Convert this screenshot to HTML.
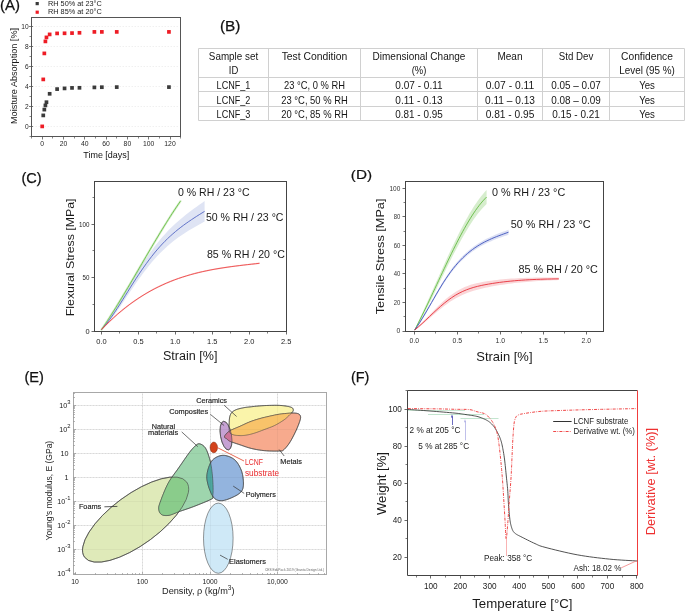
<!DOCTYPE html>
<html><head><meta charset="utf-8"><style>
html,body{margin:0;padding:0;background:#fff;width:685px;height:611px;overflow:hidden}
svg{display:block;font-family:"Liberation Sans", sans-serif;will-change:transform}
</style></head><body>
<svg width="685" height="611" viewBox="0 0 685 611">
<rect width="685" height="611" fill="#fff"/>
<line x1="32.50" y1="126.50" x2="179.50" y2="126.50" stroke="#ececec" stroke-width="0.8" stroke-dasharray="1.5,1.5"/>
<line x1="32.50" y1="106.50" x2="179.50" y2="106.50" stroke="#ececec" stroke-width="0.8" stroke-dasharray="1.5,1.5"/>
<line x1="32.50" y1="86.50" x2="179.50" y2="86.50" stroke="#ececec" stroke-width="0.8" stroke-dasharray="1.5,1.5"/>
<line x1="32.50" y1="66.50" x2="179.50" y2="66.50" stroke="#ececec" stroke-width="0.8" stroke-dasharray="1.5,1.5"/>
<line x1="32.50" y1="46.50" x2="179.50" y2="46.50" stroke="#ececec" stroke-width="0.8" stroke-dasharray="1.5,1.5"/>
<line x1="32.50" y1="26.50" x2="179.50" y2="26.50" stroke="#ececec" stroke-width="0.8" stroke-dasharray="1.5,1.5"/>
<rect x="31.5" y="17.5" width="149.0" height="119.0" fill="none" stroke="#555" stroke-width="1"/>
<line x1="29.00" y1="126.50" x2="33.00" y2="126.50" stroke="#555" stroke-width="0.8" />
<text x="28.70" y="128.70" font-size="6.6" fill="#262626" text-anchor="end" >0</text>
<line x1="29.00" y1="106.50" x2="33.00" y2="106.50" stroke="#555" stroke-width="0.8" />
<text x="28.70" y="108.70" font-size="6.6" fill="#262626" text-anchor="end" >2</text>
<line x1="29.00" y1="86.50" x2="33.00" y2="86.50" stroke="#555" stroke-width="0.8" />
<text x="28.70" y="88.70" font-size="6.6" fill="#262626" text-anchor="end" >4</text>
<line x1="29.00" y1="66.50" x2="33.00" y2="66.50" stroke="#555" stroke-width="0.8" />
<text x="28.70" y="68.70" font-size="6.6" fill="#262626" text-anchor="end" >6</text>
<line x1="29.00" y1="46.50" x2="33.00" y2="46.50" stroke="#555" stroke-width="0.8" />
<text x="28.70" y="48.70" font-size="6.6" fill="#262626" text-anchor="end" >8</text>
<line x1="29.00" y1="26.50" x2="33.00" y2="26.50" stroke="#555" stroke-width="0.8" />
<text x="28.70" y="28.70" font-size="6.6" fill="#262626" text-anchor="end" >10</text>
<line x1="29.50" y1="136.50" x2="31.50" y2="136.50" stroke="#555" stroke-width="0.7" />
<line x1="29.50" y1="116.50" x2="31.50" y2="116.50" stroke="#555" stroke-width="0.7" />
<line x1="29.50" y1="96.50" x2="31.50" y2="96.50" stroke="#555" stroke-width="0.7" />
<line x1="29.50" y1="76.50" x2="31.50" y2="76.50" stroke="#555" stroke-width="0.7" />
<line x1="29.50" y1="56.50" x2="31.50" y2="56.50" stroke="#555" stroke-width="0.7" />
<line x1="29.50" y1="36.50" x2="31.50" y2="36.50" stroke="#555" stroke-width="0.7" />
<line x1="42.50" y1="136.50" x2="42.50" y2="139.50" stroke="#555" stroke-width="0.8" />
<text x="42.20" y="145.70" font-size="6.8" fill="#262626" text-anchor="middle" >0</text>
<line x1="63.50" y1="136.50" x2="63.50" y2="139.50" stroke="#555" stroke-width="0.8" />
<text x="63.50" y="145.70" font-size="6.8" fill="#262626" text-anchor="middle" >20</text>
<line x1="84.50" y1="136.50" x2="84.50" y2="139.50" stroke="#555" stroke-width="0.8" />
<text x="84.80" y="145.70" font-size="6.8" fill="#262626" text-anchor="middle" >40</text>
<line x1="106.50" y1="136.50" x2="106.50" y2="139.50" stroke="#555" stroke-width="0.8" />
<text x="106.10" y="145.70" font-size="6.8" fill="#262626" text-anchor="middle" >60</text>
<line x1="127.50" y1="136.50" x2="127.50" y2="139.50" stroke="#555" stroke-width="0.8" />
<text x="127.40" y="145.70" font-size="6.8" fill="#262626" text-anchor="middle" >80</text>
<line x1="148.50" y1="136.50" x2="148.50" y2="139.50" stroke="#555" stroke-width="0.8" />
<text x="148.70" y="145.70" font-size="6.8" fill="#262626" text-anchor="middle" >100</text>
<line x1="170.50" y1="136.50" x2="170.50" y2="139.50" stroke="#555" stroke-width="0.8" />
<text x="170.00" y="145.70" font-size="6.8" fill="#262626" text-anchor="middle" >120</text>
<line x1="31.50" y1="136.50" x2="31.50" y2="138.50" stroke="#555" stroke-width="0.7" />
<line x1="52.50" y1="136.50" x2="52.50" y2="138.50" stroke="#555" stroke-width="0.7" />
<line x1="74.50" y1="136.50" x2="74.50" y2="138.50" stroke="#555" stroke-width="0.7" />
<line x1="95.50" y1="136.50" x2="95.50" y2="138.50" stroke="#555" stroke-width="0.7" />
<line x1="116.50" y1="136.50" x2="116.50" y2="138.50" stroke="#555" stroke-width="0.7" />
<line x1="138.50" y1="136.50" x2="138.50" y2="138.50" stroke="#555" stroke-width="0.7" />
<line x1="159.50" y1="136.50" x2="159.50" y2="138.50" stroke="#555" stroke-width="0.7" />
<line x1="180.50" y1="136.50" x2="180.50" y2="138.50" stroke="#555" stroke-width="0.7" />
<rect x="41.41" y="113.55" width="3.7" height="3.7" fill="#3b3b3b"/>
<rect x="42.48" y="107.75" width="3.7" height="3.7" fill="#3b3b3b"/>
<rect x="43.55" y="103.55" width="3.7" height="3.7" fill="#3b3b3b"/>
<rect x="44.61" y="100.35" width="3.7" height="3.7" fill="#3b3b3b"/>
<rect x="47.80" y="91.95" width="3.7" height="3.7" fill="#3b3b3b"/>
<rect x="55.26" y="87.25" width="3.7" height="3.7" fill="#3b3b3b"/>
<rect x="62.71" y="86.55" width="3.7" height="3.7" fill="#3b3b3b"/>
<rect x="70.17" y="86.05" width="3.7" height="3.7" fill="#3b3b3b"/>
<rect x="77.62" y="85.95" width="3.7" height="3.7" fill="#3b3b3b"/>
<rect x="92.53" y="85.55" width="3.7" height="3.7" fill="#3b3b3b"/>
<rect x="99.99" y="85.35" width="3.7" height="3.7" fill="#3b3b3b"/>
<rect x="114.90" y="85.25" width="3.7" height="3.7" fill="#3b3b3b"/>
<rect x="167.09" y="85.25" width="3.7" height="3.7" fill="#3b3b3b"/>
<rect x="40.35" y="124.55" width="3.7" height="3.7" fill="#ee1c25"/>
<rect x="41.41" y="77.55" width="3.7" height="3.7" fill="#ee1c25"/>
<rect x="42.48" y="51.55" width="3.7" height="3.7" fill="#ee1c25"/>
<rect x="43.55" y="39.55" width="3.7" height="3.7" fill="#ee1c25"/>
<rect x="44.61" y="35.55" width="3.7" height="3.7" fill="#ee1c25"/>
<rect x="47.80" y="32.55" width="3.7" height="3.7" fill="#ee1c25"/>
<rect x="55.26" y="31.55" width="3.7" height="3.7" fill="#ee1c25"/>
<rect x="62.71" y="31.45" width="3.7" height="3.7" fill="#ee1c25"/>
<rect x="70.17" y="31.25" width="3.7" height="3.7" fill="#ee1c25"/>
<rect x="77.62" y="30.95" width="3.7" height="3.7" fill="#ee1c25"/>
<rect x="92.53" y="30.05" width="3.7" height="3.7" fill="#ee1c25"/>
<rect x="99.99" y="30.05" width="3.7" height="3.7" fill="#ee1c25"/>
<rect x="114.90" y="30.05" width="3.7" height="3.7" fill="#ee1c25"/>
<rect x="167.09" y="30.05" width="3.7" height="3.7" fill="#ee1c25"/>
<rect x="35.6" y="2.0" width="3.2" height="3.2" fill="#3b3b3b"/>
<rect x="35.6" y="10.6" width="3.2" height="3.2" fill="#ee1c25"/>
<text x="48.00" y="5.80" font-size="7.0" fill="#222" text-anchor="start" textLength="53.8" lengthAdjust="spacingAndGlyphs" >RH 50% at 23°C</text>
<text x="48.00" y="14.40" font-size="7.0" fill="#222" text-anchor="start" textLength="53.8" lengthAdjust="spacingAndGlyphs" >RH 85% at 20°C</text>
<text x="0.00" y="10.00" font-size="14.2" fill="#111" text-anchor="start" textLength="20" lengthAdjust="spacingAndGlyphs" stroke="#111" stroke-width="0.25">(A)</text>
<text x="0.00" y="0.00" font-size="8.6" fill="#1a1a1a" text-anchor="middle" textLength="96" lengthAdjust="spacingAndGlyphs" transform="translate(17.4,76.0) rotate(-90)">Moisture Absorption [%]</text>
<text x="106.30" y="158.40" font-size="9.8" fill="#111" text-anchor="middle" textLength="46" lengthAdjust="spacingAndGlyphs" >Time [days]</text>
<line x1="198.50" y1="48.50" x2="198.50" y2="120.50" stroke="#d0d0d0" stroke-width="1" />
<line x1="268.50" y1="48.50" x2="268.50" y2="120.50" stroke="#d0d0d0" stroke-width="1" />
<line x1="360.50" y1="48.50" x2="360.50" y2="120.50" stroke="#d0d0d0" stroke-width="1" />
<line x1="477.50" y1="48.50" x2="477.50" y2="120.50" stroke="#d0d0d0" stroke-width="1" />
<line x1="542.50" y1="48.50" x2="542.50" y2="120.50" stroke="#d0d0d0" stroke-width="1" />
<line x1="609.50" y1="48.50" x2="609.50" y2="120.50" stroke="#d0d0d0" stroke-width="1" />
<line x1="684.50" y1="48.50" x2="684.50" y2="120.50" stroke="#d0d0d0" stroke-width="1" />
<line x1="198.50" y1="48.50" x2="684.50" y2="48.50" stroke="#d0d0d0" stroke-width="1" />
<line x1="198.50" y1="77.50" x2="684.50" y2="77.50" stroke="#d0d0d0" stroke-width="1" />
<line x1="198.50" y1="91.50" x2="684.50" y2="91.50" stroke="#d0d0d0" stroke-width="1" />
<line x1="198.50" y1="106.50" x2="684.50" y2="106.50" stroke="#d0d0d0" stroke-width="1" />
<line x1="198.50" y1="120.50" x2="684.50" y2="120.50" stroke="#d0d0d0" stroke-width="1" />
<text x="233.50" y="60.40" font-size="10.4" fill="#161616" text-anchor="middle" textLength="49.3" lengthAdjust="spacingAndGlyphs" >Sample set</text>
<text x="233.50" y="73.70" font-size="10.4" fill="#161616" text-anchor="middle" textLength="9.5" lengthAdjust="spacingAndGlyphs" >ID</text>
<text x="314.50" y="60.40" font-size="10.4" fill="#161616" text-anchor="middle" textLength="65.7" lengthAdjust="spacingAndGlyphs" >Test Condition</text>
<text x="419.00" y="60.40" font-size="10.4" fill="#161616" text-anchor="middle" textLength="92.8" lengthAdjust="spacingAndGlyphs" >Dimensional Change</text>
<text x="419.00" y="73.70" font-size="10.4" fill="#161616" text-anchor="middle" textLength="14.6" lengthAdjust="spacingAndGlyphs" >(%)</text>
<text x="510.00" y="60.40" font-size="10.4" fill="#161616" text-anchor="middle" textLength="25.1" lengthAdjust="spacingAndGlyphs" >Mean</text>
<text x="576.00" y="60.40" font-size="10.4" fill="#161616" text-anchor="middle" textLength="34.5" lengthAdjust="spacingAndGlyphs" >Std Dev</text>
<text x="647.00" y="60.40" font-size="10.4" fill="#161616" text-anchor="middle" textLength="51.8" lengthAdjust="spacingAndGlyphs" >Confidence</text>
<text x="647.00" y="73.70" font-size="10.4" fill="#161616" text-anchor="middle" textLength="55.5" lengthAdjust="spacingAndGlyphs" >Level (95 %)</text>
<text x="233.50" y="89.00" font-size="10.4" fill="#161616" text-anchor="middle" textLength="33.8" lengthAdjust="spacingAndGlyphs" >LCNF_1</text>
<text x="314.50" y="89.00" font-size="10.4" fill="#161616" text-anchor="middle" textLength="60.9" lengthAdjust="spacingAndGlyphs" >23 °C, 0 % RH</text>
<text x="419.00" y="89.00" font-size="10.4" fill="#161616" text-anchor="middle" textLength="47.3" lengthAdjust="spacingAndGlyphs" >0.07 - 0.11</text>
<text x="510.00" y="89.00" font-size="10.4" fill="#161616" text-anchor="middle" textLength="48.6" lengthAdjust="spacingAndGlyphs" >0.07 - 0.11</text>
<text x="576.00" y="89.00" font-size="10.4" fill="#161616" text-anchor="middle" textLength="49.6" lengthAdjust="spacingAndGlyphs" >0.05 – 0.07</text>
<text x="647.00" y="89.00" font-size="10.4" fill="#161616" text-anchor="middle" textLength="15.7" lengthAdjust="spacingAndGlyphs" >Yes</text>
<text x="233.50" y="103.50" font-size="10.4" fill="#161616" text-anchor="middle" textLength="33.8" lengthAdjust="spacingAndGlyphs" >LCNF_2</text>
<text x="314.50" y="103.50" font-size="10.4" fill="#161616" text-anchor="middle" textLength="66.5" lengthAdjust="spacingAndGlyphs" >23 °C, 50 % RH</text>
<text x="419.00" y="103.50" font-size="10.4" fill="#161616" text-anchor="middle" textLength="47.3" lengthAdjust="spacingAndGlyphs" >0.11 - 0.13</text>
<text x="510.00" y="103.50" font-size="10.4" fill="#161616" text-anchor="middle" textLength="50" lengthAdjust="spacingAndGlyphs" >0.11 – 0.13</text>
<text x="576.00" y="103.50" font-size="10.4" fill="#161616" text-anchor="middle" textLength="49.6" lengthAdjust="spacingAndGlyphs" >0.08 – 0.09</text>
<text x="647.00" y="103.50" font-size="10.4" fill="#161616" text-anchor="middle" textLength="15.7" lengthAdjust="spacingAndGlyphs" >Yes</text>
<text x="233.50" y="118.00" font-size="10.4" fill="#161616" text-anchor="middle" textLength="33.8" lengthAdjust="spacingAndGlyphs" >LCNF_3</text>
<text x="314.50" y="118.00" font-size="10.4" fill="#161616" text-anchor="middle" textLength="66.5" lengthAdjust="spacingAndGlyphs" >20 °C, 85 % RH</text>
<text x="419.00" y="118.00" font-size="10.4" fill="#161616" text-anchor="middle" textLength="47.3" lengthAdjust="spacingAndGlyphs" >0.81 - 0.95</text>
<text x="510.00" y="118.00" font-size="10.4" fill="#161616" text-anchor="middle" textLength="48.6" lengthAdjust="spacingAndGlyphs" >0.81 - 0.95</text>
<text x="576.00" y="118.00" font-size="10.4" fill="#161616" text-anchor="middle" textLength="47.7" lengthAdjust="spacingAndGlyphs" >0.15 - 0.21</text>
<text x="647.00" y="118.00" font-size="10.4" fill="#161616" text-anchor="middle" textLength="15.7" lengthAdjust="spacingAndGlyphs" >Yes</text>
<text x="220.00" y="30.80" font-size="14" fill="#111" text-anchor="start" textLength="20.5" lengthAdjust="spacingAndGlyphs" stroke="#111" stroke-width="0.25">(B)</text>
<rect x="94.5" y="181.5" width="192.0" height="150.0" fill="none" stroke="#444" stroke-width="1"/>
<line x1="101.50" y1="331.50" x2="101.50" y2="334.50" stroke="#444" stroke-width="0.8" />
<text x="101.50" y="343.90" font-size="7.4" fill="#222" text-anchor="middle" textLength="10.4" lengthAdjust="spacingAndGlyphs" >0.0</text>
<line x1="138.50" y1="331.50" x2="138.50" y2="334.50" stroke="#444" stroke-width="0.8" />
<text x="138.42" y="343.90" font-size="7.4" fill="#222" text-anchor="middle" textLength="10.4" lengthAdjust="spacingAndGlyphs" >0.5</text>
<line x1="175.50" y1="331.50" x2="175.50" y2="334.50" stroke="#444" stroke-width="0.8" />
<text x="175.34" y="343.90" font-size="7.4" fill="#222" text-anchor="middle" textLength="10.4" lengthAdjust="spacingAndGlyphs" >1.0</text>
<line x1="212.50" y1="331.50" x2="212.50" y2="334.50" stroke="#444" stroke-width="0.8" />
<text x="212.26" y="343.90" font-size="7.4" fill="#222" text-anchor="middle" textLength="10.4" lengthAdjust="spacingAndGlyphs" >1.5</text>
<line x1="249.50" y1="331.50" x2="249.50" y2="334.50" stroke="#444" stroke-width="0.8" />
<text x="249.18" y="343.90" font-size="7.4" fill="#222" text-anchor="middle" textLength="10.4" lengthAdjust="spacingAndGlyphs" >2.0</text>
<line x1="286.50" y1="331.50" x2="286.50" y2="334.50" stroke="#444" stroke-width="0.8" />
<text x="286.10" y="343.90" font-size="7.4" fill="#222" text-anchor="middle" textLength="10.4" lengthAdjust="spacingAndGlyphs" >2.5</text>
<line x1="119.50" y1="331.50" x2="119.50" y2="333.50" stroke="#444" stroke-width="0.7" />
<line x1="156.50" y1="331.50" x2="156.50" y2="333.50" stroke="#444" stroke-width="0.7" />
<line x1="193.50" y1="331.50" x2="193.50" y2="333.50" stroke="#444" stroke-width="0.7" />
<line x1="230.50" y1="331.50" x2="230.50" y2="333.50" stroke="#444" stroke-width="0.7" />
<line x1="267.50" y1="331.50" x2="267.50" y2="333.50" stroke="#444" stroke-width="0.7" />
<line x1="91.50" y1="331.50" x2="94.50" y2="331.50" stroke="#444" stroke-width="0.8" />
<text x="89.50" y="334.10" font-size="7.4" fill="#222" text-anchor="end" >0</text>
<line x1="91.50" y1="277.50" x2="94.50" y2="277.50" stroke="#444" stroke-width="0.8" />
<text x="89.50" y="280.40" font-size="7.4" fill="#222" text-anchor="end" textLength="6.9" lengthAdjust="spacingAndGlyphs" >50</text>
<line x1="91.50" y1="224.50" x2="94.50" y2="224.50" stroke="#444" stroke-width="0.8" />
<text x="89.50" y="226.70" font-size="7.4" fill="#222" text-anchor="end" textLength="10.4" lengthAdjust="spacingAndGlyphs" >100</text>
<line x1="92.50" y1="304.50" x2="94.50" y2="304.50" stroke="#444" stroke-width="0.7" />
<line x1="92.50" y1="250.50" x2="94.50" y2="250.50" stroke="#444" stroke-width="0.7" />
<line x1="92.50" y1="197.50" x2="94.50" y2="197.50" stroke="#444" stroke-width="0.7" />
<path d="M101.50,329.60 L104.14,325.94 L106.79,322.22 L109.43,318.32 L112.07,314.24 L114.72,310.02 L117.36,305.68 L120.01,301.25 L122.65,296.75 L125.29,292.21 L127.94,287.68 L130.58,283.17 L133.22,278.72 L135.87,274.35 L138.51,270.08 L141.15,265.91 L143.80,261.85 L146.44,257.91 L149.08,254.08 L151.73,250.39 L154.37,246.84 L157.02,243.44 L159.66,240.19 L162.30,237.09 L164.95,234.13 L167.59,231.30 L170.23,228.60 L172.88,226.02 L175.52,223.55 L178.16,221.17 L180.81,218.89 L183.45,216.69 L186.09,214.56 L188.74,212.50 L191.38,210.51 L194.03,208.56 L196.67,206.65 L199.31,204.77 L201.96,202.92 L204.60,201.09 L204.60,221.61 L201.96,223.04 L199.31,224.49 L196.67,225.97 L194.03,227.47 L191.38,229.01 L188.74,230.60 L186.09,232.25 L183.45,233.96 L180.81,235.74 L178.16,237.60 L175.52,239.55 L172.88,241.59 L170.23,243.74 L167.59,246.00 L164.95,248.38 L162.30,250.89 L159.66,253.54 L157.02,256.33 L154.37,259.28 L151.73,262.36 L149.08,265.57 L146.44,268.91 L143.80,272.37 L141.15,275.93 L138.51,279.60 L135.87,283.35 L133.22,287.19 L130.58,291.11 L127.94,295.07 L125.29,299.04 L122.65,303.00 L120.01,306.90 L117.36,310.72 L114.72,314.42 L112.07,317.96 L109.43,321.31 L106.79,324.43 L104.14,327.25 L101.50,329.60 Z" fill="#dfe4f4" stroke="none"/>
<path d="M101.50,329.60 L103.53,326.61 L105.55,323.57 L107.58,320.48 L109.60,317.35 L111.63,314.18 L113.65,310.97 L115.68,307.72 L117.71,304.44 L119.73,301.12 L121.76,297.78 L123.78,294.41 L125.81,291.02 L127.83,287.62 L129.86,284.19 L131.88,280.75 L133.91,277.30 L135.94,273.84 L137.96,270.37 L139.99,266.90 L142.01,263.43 L144.04,259.96 L146.06,256.50 L148.09,253.04 L150.12,249.60 L152.14,246.17 L154.17,242.75 L156.19,239.36 L158.22,235.98 L160.24,232.63 L162.27,229.31 L164.29,226.02 L166.32,222.76 L168.35,219.53 L170.37,216.34 L172.40,213.20 L174.42,210.10 L176.45,207.04 L178.47,204.03 L180.50,201.08" stroke="#6cc04a" stroke-width="2.2" fill="none" stroke-linecap="round" stroke-opacity="0.3"/>
<path d="M101.50,329.60 L103.53,326.61 L105.55,323.57 L107.58,320.48 L109.60,317.35 L111.63,314.18 L113.65,310.97 L115.68,307.72 L117.71,304.44 L119.73,301.12 L121.76,297.78 L123.78,294.41 L125.81,291.02 L127.83,287.62 L129.86,284.19 L131.88,280.75 L133.91,277.30 L135.94,273.84 L137.96,270.37 L139.99,266.90 L142.01,263.43 L144.04,259.96 L146.06,256.50 L148.09,253.04 L150.12,249.60 L152.14,246.17 L154.17,242.75 L156.19,239.36 L158.22,235.98 L160.24,232.63 L162.27,229.31 L164.29,226.02 L166.32,222.76 L168.35,219.53 L170.37,216.34 L172.40,213.20 L174.42,210.10 L176.45,207.04 L178.47,204.03 L180.50,201.08" stroke="#6cc04a" stroke-width="0.9" fill="none" />
<path d="M101.50,329.60 L104.14,326.59 L106.79,323.32 L109.43,319.81 L112.07,316.10 L114.72,312.22 L117.36,308.20 L120.01,304.07 L122.65,299.87 L125.29,295.63 L127.94,291.37 L130.58,287.14 L133.22,282.96 L135.87,278.85 L138.51,274.84 L141.15,270.92 L143.80,267.11 L146.44,263.41 L149.08,259.83 L151.73,256.38 L154.37,253.06 L157.02,249.89 L159.66,246.86 L162.30,243.99 L164.95,241.26 L167.59,238.65 L170.23,236.17 L172.88,233.81 L175.52,231.55 L178.16,229.38 L180.81,227.31 L183.45,225.32 L186.09,223.41 L188.74,221.55 L191.38,219.76 L194.03,218.01 L196.67,216.31 L199.31,214.63 L201.96,212.98 L204.60,211.35" stroke="#4a5fc1" stroke-width="0.85" fill="none" />
<path d="M101.50,329.60 L105.55,325.43 L109.60,321.45 L113.65,317.66 L117.71,314.05 L121.76,310.63 L125.81,307.37 L129.86,304.28 L133.91,301.35 L137.96,298.59 L142.01,295.97 L146.06,293.50 L150.12,291.18 L154.17,288.99 L158.22,286.93 L162.27,285.00 L166.32,283.20 L170.37,281.51 L174.42,279.93 L178.47,278.46 L182.53,277.10 L186.58,275.83 L190.63,274.64 L194.68,273.55 L198.73,272.53 L202.78,271.59 L206.83,270.72 L210.88,269.91 L214.94,269.17 L218.99,268.47 L223.04,267.82 L227.09,267.22 L231.14,266.65 L235.19,266.12 L239.24,265.61 L243.29,265.12 L247.35,264.65 L251.40,264.19 L255.45,263.74 L259.50,263.28" stroke="#ec4a4a" stroke-width="1.4" fill="none" stroke-opacity="0.25"/>
<path d="M101.50,329.60 L105.55,325.43 L109.60,321.45 L113.65,317.66 L117.71,314.05 L121.76,310.63 L125.81,307.37 L129.86,304.28 L133.91,301.35 L137.96,298.59 L142.01,295.97 L146.06,293.50 L150.12,291.18 L154.17,288.99 L158.22,286.93 L162.27,285.00 L166.32,283.20 L170.37,281.51 L174.42,279.93 L178.47,278.46 L182.53,277.10 L186.58,275.83 L190.63,274.64 L194.68,273.55 L198.73,272.53 L202.78,271.59 L206.83,270.72 L210.88,269.91 L214.94,269.17 L218.99,268.47 L223.04,267.82 L227.09,267.22 L231.14,266.65 L235.19,266.12 L239.24,265.61 L243.29,265.12 L247.35,264.65 L251.40,264.19 L255.45,263.74 L259.50,263.28" stroke="#ec4040" stroke-width="0.85" fill="none" />
<text x="177.90" y="195.70" font-size="10.7" fill="#1a1a1a" text-anchor="start" textLength="71.7" lengthAdjust="spacingAndGlyphs" >0 % RH / 23 °C</text>
<text x="205.90" y="221.40" font-size="10.7" fill="#1a1a1a" text-anchor="start" textLength="77.6" lengthAdjust="spacingAndGlyphs" >50 % RH / 23 °C</text>
<text x="206.90" y="258.40" font-size="10.7" fill="#1a1a1a" text-anchor="start" textLength="78" lengthAdjust="spacingAndGlyphs" >85 % RH / 20 °C</text>
<text x="21.40" y="183.00" font-size="14" fill="#111" text-anchor="start" textLength="20.2" lengthAdjust="spacingAndGlyphs" stroke="#111" stroke-width="0.25">(C)</text>
<text x="0.00" y="0.00" font-size="11.8" fill="#1a1a1a" text-anchor="middle" textLength="117.6" lengthAdjust="spacingAndGlyphs" transform="translate(73.5,257.4) rotate(-90)">Flexural Stress [MPa]</text>
<text x="190.20" y="360.40" font-size="12.3" fill="#1a1a1a" text-anchor="middle" textLength="54.4" lengthAdjust="spacingAndGlyphs" >Strain [%]</text>
<rect x="405.5" y="181.5" width="198.0" height="150.0" fill="none" stroke="#444" stroke-width="1"/>
<line x1="414.50" y1="331.50" x2="414.50" y2="334.50" stroke="#444" stroke-width="0.8" />
<text x="414.40" y="342.70" font-size="6.9" fill="#333" text-anchor="middle" textLength="9.6" lengthAdjust="spacingAndGlyphs" >0.0</text>
<line x1="457.50" y1="331.50" x2="457.50" y2="334.50" stroke="#444" stroke-width="0.8" />
<text x="457.35" y="342.70" font-size="6.9" fill="#333" text-anchor="middle" textLength="9.6" lengthAdjust="spacingAndGlyphs" >0.5</text>
<line x1="500.50" y1="331.50" x2="500.50" y2="334.50" stroke="#444" stroke-width="0.8" />
<text x="500.30" y="342.70" font-size="6.9" fill="#333" text-anchor="middle" textLength="9.6" lengthAdjust="spacingAndGlyphs" >1.0</text>
<line x1="543.50" y1="331.50" x2="543.50" y2="334.50" stroke="#444" stroke-width="0.8" />
<text x="543.25" y="342.70" font-size="6.9" fill="#333" text-anchor="middle" textLength="9.6" lengthAdjust="spacingAndGlyphs" >1.5</text>
<line x1="586.50" y1="331.50" x2="586.50" y2="334.50" stroke="#444" stroke-width="0.8" />
<text x="586.20" y="342.70" font-size="6.9" fill="#333" text-anchor="middle" textLength="9.6" lengthAdjust="spacingAndGlyphs" >2.0</text>
<line x1="435.50" y1="331.50" x2="435.50" y2="333.50" stroke="#444" stroke-width="0.7" />
<line x1="478.50" y1="331.50" x2="478.50" y2="333.50" stroke="#444" stroke-width="0.7" />
<line x1="521.50" y1="331.50" x2="521.50" y2="333.50" stroke="#444" stroke-width="0.7" />
<line x1="564.50" y1="331.50" x2="564.50" y2="333.50" stroke="#444" stroke-width="0.7" />
<line x1="402.50" y1="331.50" x2="405.50" y2="331.50" stroke="#444" stroke-width="0.8" />
<text x="400.30" y="333.40" font-size="6.8" fill="#333" text-anchor="end" >0</text>
<line x1="402.50" y1="302.50" x2="405.50" y2="302.50" stroke="#444" stroke-width="0.8" />
<text x="400.30" y="304.84" font-size="6.8" fill="#333" text-anchor="end" textLength="6.6" lengthAdjust="spacingAndGlyphs" >20</text>
<line x1="402.50" y1="273.50" x2="405.50" y2="273.50" stroke="#444" stroke-width="0.8" />
<text x="400.30" y="276.28" font-size="6.8" fill="#333" text-anchor="end" textLength="6.6" lengthAdjust="spacingAndGlyphs" >40</text>
<line x1="402.50" y1="245.50" x2="405.50" y2="245.50" stroke="#444" stroke-width="0.8" />
<text x="400.30" y="247.72" font-size="6.8" fill="#333" text-anchor="end" textLength="6.6" lengthAdjust="spacingAndGlyphs" >60</text>
<line x1="402.50" y1="216.50" x2="405.50" y2="216.50" stroke="#444" stroke-width="0.8" />
<text x="400.30" y="219.16" font-size="6.8" fill="#333" text-anchor="end" textLength="6.6" lengthAdjust="spacingAndGlyphs" >80</text>
<line x1="402.50" y1="188.50" x2="405.50" y2="188.50" stroke="#444" stroke-width="0.8" />
<text x="400.30" y="190.60" font-size="6.8" fill="#333" text-anchor="end" textLength="10.8" lengthAdjust="spacingAndGlyphs" >100</text>
<line x1="403.50" y1="316.50" x2="405.50" y2="316.50" stroke="#444" stroke-width="0.7" />
<line x1="403.50" y1="288.50" x2="405.50" y2="288.50" stroke="#444" stroke-width="0.7" />
<line x1="403.50" y1="259.50" x2="405.50" y2="259.50" stroke="#444" stroke-width="0.7" />
<line x1="403.50" y1="231.50" x2="405.50" y2="231.50" stroke="#444" stroke-width="0.7" />
<line x1="403.50" y1="202.50" x2="405.50" y2="202.50" stroke="#444" stroke-width="0.7" />
<path d="M414.70,329.50 L416.17,326.07 L417.63,322.90 L419.10,319.75 L420.57,316.59 L422.04,313.42 L423.50,310.24 L424.97,307.04 L426.44,303.82 L427.91,300.59 L429.37,297.34 L430.84,294.08 L432.31,290.82 L433.78,287.55 L435.24,284.27 L436.71,281.00 L438.18,277.73 L439.64,274.46 L441.11,271.20 L442.58,267.95 L444.05,264.71 L445.51,261.49 L446.98,258.29 L448.45,255.11 L449.92,251.95 L451.38,248.82 L452.85,245.73 L454.32,242.67 L455.79,239.64 L457.25,236.66 L458.72,233.72 L460.19,230.82 L461.66,227.98 L463.12,225.18 L464.59,222.44 L466.06,219.76 L467.52,217.14 L468.99,214.59 L470.46,212.10 L471.93,209.68 L473.39,207.33 L474.86,205.07 L476.33,202.88 L477.80,200.77 L479.26,198.75 L480.73,196.82 L482.20,194.98 L483.67,193.23 L485.13,191.59 L486.60,190.04 L486.60,204.04 L485.13,205.43 L483.67,206.91 L482.20,208.50 L480.73,210.17 L479.26,211.94 L477.80,213.79 L476.33,215.73 L474.86,217.75 L473.39,219.84 L471.93,222.02 L470.46,224.26 L468.99,226.57 L467.52,228.95 L466.06,231.38 L464.59,233.88 L463.12,236.44 L461.66,239.04 L460.19,241.70 L458.72,244.40 L457.25,247.15 L455.79,249.94 L454.32,252.76 L452.85,255.62 L451.38,258.51 L449.92,261.42 L448.45,264.36 L446.98,267.33 L445.51,270.31 L444.05,273.30 L442.58,276.31 L441.11,279.32 L439.64,282.35 L438.18,285.37 L436.71,288.39 L435.24,291.41 L433.78,294.41 L432.31,297.41 L430.84,300.39 L429.37,303.35 L427.91,306.29 L426.44,309.20 L424.97,312.08 L423.50,314.93 L422.04,317.73 L420.57,320.48 L419.10,323.18 L417.63,325.81 L416.17,328.33 L414.70,330.50 Z" fill="#6cc04a" fill-opacity="0.28" stroke="none"/>
<path d="M414.70,329.50 L416.61,326.47 L418.53,323.48 L420.44,320.39 L422.36,317.21 L424.27,313.96 L426.19,310.65 L428.10,307.30 L430.01,303.91 L431.93,300.52 L433.84,297.14 L435.76,293.77 L437.67,290.45 L439.59,287.19 L441.50,284.00 L443.41,280.90 L445.33,277.90 L447.24,275.01 L449.16,272.23 L451.07,269.56 L452.99,267.02 L454.90,264.61 L456.81,262.31 L458.73,260.13 L460.64,258.06 L462.56,256.10 L464.47,254.24 L466.39,252.48 L468.30,250.81 L470.21,249.23 L472.13,247.74 L474.04,246.33 L475.96,244.99 L477.87,243.73 L479.79,242.53 L481.70,241.40 L483.61,240.32 L485.53,239.30 L487.44,238.33 L489.36,237.41 L491.27,236.52 L493.19,235.68 L495.10,234.86 L497.01,234.08 L498.93,233.31 L500.84,232.57 L502.76,231.85 L504.67,231.13 L506.59,230.42 L508.50,229.71 L508.50,234.71 L506.59,235.38 L504.67,236.05 L502.76,236.72 L500.84,237.41 L498.93,238.11 L497.01,238.82 L495.10,239.57 L493.19,240.33 L491.27,241.14 L489.36,241.97 L487.44,242.85 L485.53,243.78 L483.61,244.75 L481.70,245.78 L479.79,246.86 L477.87,248.01 L475.96,249.22 L474.04,250.51 L472.13,251.87 L470.21,253.31 L468.30,254.83 L466.39,256.45 L464.47,258.15 L462.56,259.96 L460.64,261.86 L458.73,263.87 L456.81,265.99 L454.90,268.23 L452.99,270.58 L451.07,273.06 L449.16,275.65 L447.24,278.37 L445.33,281.19 L443.41,284.11 L441.50,287.14 L439.59,290.25 L437.67,293.43 L435.76,296.67 L433.84,299.94 L431.93,303.24 L430.01,306.53 L428.10,309.81 L426.19,313.05 L424.27,316.24 L422.36,319.35 L420.44,322.38 L418.53,325.28 L416.61,328.04 L414.70,330.50 Z" fill="#4a5fc1" fill-opacity="0.2" stroke="none"/>
<path d="M414.70,329.50 L417.64,326.77 L420.58,323.92 L423.52,320.97 L426.46,317.97 L429.40,314.94 L432.34,311.93 L435.29,308.95 L438.23,306.06 L441.17,303.28 L444.11,300.62 L447.05,298.12 L449.99,295.78 L452.93,293.64 L455.87,291.70 L458.81,289.97 L461.75,288.43 L464.69,287.08 L467.63,285.89 L470.58,284.87 L473.52,284.03 L476.46,283.29 L479.40,282.64 L482.34,282.07 L485.28,281.57 L488.22,281.11 L491.16,280.69 L494.10,280.30 L497.04,279.95 L499.98,279.62 L502.92,279.32 L505.87,279.05 L508.81,278.80 L511.75,278.59 L514.69,278.39 L517.63,278.22 L520.57,278.07 L523.51,277.94 L526.45,277.83 L529.39,277.74 L532.33,277.67 L535.27,277.61 L538.21,277.57 L541.16,277.54 L544.10,277.52 L547.04,277.52 L549.98,277.53 L552.92,277.55 L555.86,277.57 L558.80,277.60 L558.80,280.10 L555.86,280.21 L552.92,280.34 L549.98,280.47 L547.04,280.61 L544.10,280.76 L541.16,280.93 L538.21,281.10 L535.27,281.29 L532.33,281.50 L529.39,281.72 L526.45,281.96 L523.51,282.22 L520.57,282.50 L517.63,282.79 L514.69,283.12 L511.75,283.46 L508.81,283.83 L505.87,284.22 L502.92,284.64 L499.98,285.09 L497.04,285.56 L494.10,286.07 L491.16,286.61 L488.22,287.17 L485.28,287.78 L482.34,288.43 L479.40,289.15 L476.46,289.95 L473.52,290.83 L470.58,291.82 L467.63,292.87 L464.69,294.02 L461.75,295.28 L458.81,296.68 L455.87,298.24 L452.93,299.96 L449.99,301.86 L447.05,303.91 L444.11,306.09 L441.17,308.39 L438.23,310.80 L435.29,313.28 L432.34,315.82 L429.40,318.39 L426.46,320.95 L423.52,323.47 L420.58,325.92 L417.64,328.28 L414.70,330.50 Z" fill="#e8303a" fill-opacity="0.2" stroke="none"/>
<path d="M414.70,330.00 L416.54,326.47 L418.39,322.88 L420.23,319.22 L422.07,315.50 L423.92,311.73 L425.76,307.92 L427.61,304.07 L429.45,300.19 L431.29,296.28 L433.14,292.35 L434.98,288.40 L436.82,284.45 L438.67,280.50 L440.51,276.55 L442.35,272.61 L444.20,268.69 L446.04,264.79 L447.88,260.91 L449.73,257.08 L451.57,253.28 L453.42,249.53 L455.26,245.83 L457.10,242.20 L458.95,238.63 L460.79,235.13 L462.63,231.70 L464.48,228.36 L466.32,225.11 L468.16,221.96 L470.01,218.91 L471.85,215.96 L473.69,213.14 L475.54,210.43 L477.38,207.84 L479.23,205.39 L481.07,203.08 L482.91,200.91 L484.76,198.90 L486.60,197.04" stroke="#5cb83a" stroke-width="0.85" fill="none" />
<path d="M414.70,330.00 L417.11,326.53 L419.51,322.86 L421.92,319.01 L424.32,315.02 L426.73,310.92 L429.13,306.76 L431.54,302.57 L433.94,298.37 L436.35,294.21 L438.75,290.11 L441.16,286.13 L443.56,282.28 L445.97,278.58 L448.37,275.05 L450.78,271.71 L453.18,268.55 L455.59,265.59 L457.99,262.81 L460.40,260.22 L462.80,257.79 L465.21,255.52 L467.61,253.40 L470.02,251.42 L472.42,249.58 L474.83,247.87 L477.23,246.27 L479.64,244.78 L482.04,243.39 L484.45,242.09 L486.85,240.88 L489.26,239.74 L491.66,238.66 L494.07,237.64 L496.47,236.66 L498.88,235.73 L501.28,234.82 L503.69,233.94 L506.09,233.07 L508.50,232.21" stroke="#3f55bd" stroke-width="0.9" fill="none" />
<path d="M414.70,330.00 L418.39,326.87 L422.09,323.55 L425.78,320.10 L429.48,316.59 L433.17,313.09 L436.87,309.66 L440.56,306.36 L444.26,303.23 L447.95,300.32 L451.65,297.66 L455.34,295.29 L459.04,293.21 L462.73,291.40 L466.43,289.84 L470.12,288.50 L473.82,287.34 L477.51,286.35 L481.21,285.49 L484.90,284.75 L488.60,284.08 L492.29,283.47 L495.99,282.91 L499.68,282.39 L503.38,281.92 L507.07,281.50 L510.77,281.12 L514.46,280.77 L518.16,280.46 L521.85,280.19 L525.55,279.95 L529.24,279.74 L532.94,279.55 L536.63,279.39 L540.33,279.26 L544.02,279.14 L547.72,279.05 L551.41,278.97 L555.11,278.90 L558.80,278.85" stroke="#e8303a" stroke-width="0.9" fill="none" />
<text x="491.90" y="196.20" font-size="10.8" fill="#1a1a1a" text-anchor="start" textLength="73.3" lengthAdjust="spacingAndGlyphs" >0 % RH / 23 °C</text>
<text x="510.70" y="227.90" font-size="10.8" fill="#1a1a1a" text-anchor="start" textLength="79.9" lengthAdjust="spacingAndGlyphs" >50 % RH / 23 °C</text>
<text x="518.60" y="273.00" font-size="10.8" fill="#1a1a1a" text-anchor="start" textLength="79.3" lengthAdjust="spacingAndGlyphs" >85 % RH / 20 °C</text>
<text x="350.80" y="178.60" font-size="13.4" fill="#111" text-anchor="start" textLength="21.2" lengthAdjust="spacingAndGlyphs" stroke="#111" stroke-width="0.2">(D)</text>
<text x="0.00" y="0.00" font-size="11.6" fill="#1a1a1a" text-anchor="middle" textLength="115.7" lengthAdjust="spacingAndGlyphs" transform="translate(384.4,256.4) rotate(-90)">Tensile Stress [MPa]</text>
<text x="504.40" y="360.60" font-size="12.8" fill="#1a1a1a" text-anchor="middle" textLength="56.2" lengthAdjust="spacingAndGlyphs" >Strain [%]</text>
<rect x="73.5" y="392.5" width="253.0" height="182.0" fill="#fff" stroke="#a8a8a8" stroke-width="1"/>
<line x1="74.50" y1="549.50" x2="325.50" y2="549.50" stroke="#d4d4d4" stroke-width="0.7" stroke-dasharray="2,1"/>
<line x1="74.50" y1="525.50" x2="325.50" y2="525.50" stroke="#d4d4d4" stroke-width="0.7" stroke-dasharray="2,1"/>
<line x1="74.50" y1="501.50" x2="325.50" y2="501.50" stroke="#d4d4d4" stroke-width="0.7" stroke-dasharray="2,1"/>
<line x1="74.50" y1="477.50" x2="325.50" y2="477.50" stroke="#d4d4d4" stroke-width="0.7" stroke-dasharray="2,1"/>
<line x1="74.50" y1="453.50" x2="325.50" y2="453.50" stroke="#d4d4d4" stroke-width="0.7" stroke-dasharray="2,1"/>
<line x1="74.50" y1="429.50" x2="325.50" y2="429.50" stroke="#d4d4d4" stroke-width="0.7" stroke-dasharray="2,1"/>
<line x1="74.50" y1="405.50" x2="325.50" y2="405.50" stroke="#d4d4d4" stroke-width="0.7" stroke-dasharray="2,1"/>
<line x1="142.50" y1="393.50" x2="142.50" y2="573.50" stroke="#d4d4d4" stroke-width="0.7" stroke-dasharray="2,1"/>
<line x1="210.50" y1="393.50" x2="210.50" y2="573.50" stroke="#d4d4d4" stroke-width="0.7" stroke-dasharray="2,1"/>
<line x1="277.50" y1="393.50" x2="277.50" y2="573.50" stroke="#d4d4d4" stroke-width="0.7" stroke-dasharray="2,1"/>
<line x1="73.50" y1="573.50" x2="76.00" y2="573.50" stroke="#888" stroke-width="0.6" />
<line x1="73.50" y1="565.50" x2="75.00" y2="565.50" stroke="#888" stroke-width="0.6" />
<line x1="73.50" y1="561.50" x2="75.00" y2="561.50" stroke="#888" stroke-width="0.6" />
<line x1="73.50" y1="558.50" x2="75.00" y2="558.50" stroke="#888" stroke-width="0.6" />
<line x1="73.50" y1="556.50" x2="75.00" y2="556.50" stroke="#888" stroke-width="0.6" />
<line x1="73.50" y1="554.50" x2="75.00" y2="554.50" stroke="#888" stroke-width="0.6" />
<line x1="73.50" y1="552.50" x2="75.00" y2="552.50" stroke="#888" stroke-width="0.6" />
<line x1="73.50" y1="551.50" x2="75.00" y2="551.50" stroke="#888" stroke-width="0.6" />
<line x1="73.50" y1="550.50" x2="75.00" y2="550.50" stroke="#888" stroke-width="0.6" />
<line x1="73.50" y1="549.50" x2="76.00" y2="549.50" stroke="#888" stroke-width="0.6" />
<line x1="73.50" y1="541.50" x2="75.00" y2="541.50" stroke="#888" stroke-width="0.6" />
<line x1="73.50" y1="537.50" x2="75.00" y2="537.50" stroke="#888" stroke-width="0.6" />
<line x1="73.50" y1="534.50" x2="75.00" y2="534.50" stroke="#888" stroke-width="0.6" />
<line x1="73.50" y1="532.50" x2="75.00" y2="532.50" stroke="#888" stroke-width="0.6" />
<line x1="73.50" y1="530.50" x2="75.00" y2="530.50" stroke="#888" stroke-width="0.6" />
<line x1="73.50" y1="528.50" x2="75.00" y2="528.50" stroke="#888" stroke-width="0.6" />
<line x1="73.50" y1="527.50" x2="75.00" y2="527.50" stroke="#888" stroke-width="0.6" />
<line x1="73.50" y1="526.50" x2="75.00" y2="526.50" stroke="#888" stroke-width="0.6" />
<line x1="73.50" y1="525.50" x2="76.00" y2="525.50" stroke="#888" stroke-width="0.6" />
<line x1="73.50" y1="517.50" x2="75.00" y2="517.50" stroke="#888" stroke-width="0.6" />
<line x1="73.50" y1="513.50" x2="75.00" y2="513.50" stroke="#888" stroke-width="0.6" />
<line x1="73.50" y1="510.50" x2="75.00" y2="510.50" stroke="#888" stroke-width="0.6" />
<line x1="73.50" y1="508.50" x2="75.00" y2="508.50" stroke="#888" stroke-width="0.6" />
<line x1="73.50" y1="506.50" x2="75.00" y2="506.50" stroke="#888" stroke-width="0.6" />
<line x1="73.50" y1="504.50" x2="75.00" y2="504.50" stroke="#888" stroke-width="0.6" />
<line x1="73.50" y1="503.50" x2="75.00" y2="503.50" stroke="#888" stroke-width="0.6" />
<line x1="73.50" y1="502.50" x2="75.00" y2="502.50" stroke="#888" stroke-width="0.6" />
<line x1="73.50" y1="501.50" x2="76.00" y2="501.50" stroke="#888" stroke-width="0.6" />
<line x1="73.50" y1="493.50" x2="75.00" y2="493.50" stroke="#888" stroke-width="0.6" />
<line x1="73.50" y1="489.50" x2="75.00" y2="489.50" stroke="#888" stroke-width="0.6" />
<line x1="73.50" y1="486.50" x2="75.00" y2="486.50" stroke="#888" stroke-width="0.6" />
<line x1="73.50" y1="484.50" x2="75.00" y2="484.50" stroke="#888" stroke-width="0.6" />
<line x1="73.50" y1="482.50" x2="75.00" y2="482.50" stroke="#888" stroke-width="0.6" />
<line x1="73.50" y1="480.50" x2="75.00" y2="480.50" stroke="#888" stroke-width="0.6" />
<line x1="73.50" y1="479.50" x2="75.00" y2="479.50" stroke="#888" stroke-width="0.6" />
<line x1="73.50" y1="478.50" x2="75.00" y2="478.50" stroke="#888" stroke-width="0.6" />
<line x1="73.50" y1="477.50" x2="76.00" y2="477.50" stroke="#888" stroke-width="0.6" />
<line x1="73.50" y1="469.50" x2="75.00" y2="469.50" stroke="#888" stroke-width="0.6" />
<line x1="73.50" y1="465.50" x2="75.00" y2="465.50" stroke="#888" stroke-width="0.6" />
<line x1="73.50" y1="462.50" x2="75.00" y2="462.50" stroke="#888" stroke-width="0.6" />
<line x1="73.50" y1="460.50" x2="75.00" y2="460.50" stroke="#888" stroke-width="0.6" />
<line x1="73.50" y1="458.50" x2="75.00" y2="458.50" stroke="#888" stroke-width="0.6" />
<line x1="73.50" y1="456.50" x2="75.00" y2="456.50" stroke="#888" stroke-width="0.6" />
<line x1="73.50" y1="455.50" x2="75.00" y2="455.50" stroke="#888" stroke-width="0.6" />
<line x1="73.50" y1="454.50" x2="75.00" y2="454.50" stroke="#888" stroke-width="0.6" />
<line x1="73.50" y1="453.50" x2="76.00" y2="453.50" stroke="#888" stroke-width="0.6" />
<line x1="73.50" y1="445.50" x2="75.00" y2="445.50" stroke="#888" stroke-width="0.6" />
<line x1="73.50" y1="441.50" x2="75.00" y2="441.50" stroke="#888" stroke-width="0.6" />
<line x1="73.50" y1="438.50" x2="75.00" y2="438.50" stroke="#888" stroke-width="0.6" />
<line x1="73.50" y1="436.50" x2="75.00" y2="436.50" stroke="#888" stroke-width="0.6" />
<line x1="73.50" y1="434.50" x2="75.00" y2="434.50" stroke="#888" stroke-width="0.6" />
<line x1="73.50" y1="432.50" x2="75.00" y2="432.50" stroke="#888" stroke-width="0.6" />
<line x1="73.50" y1="431.50" x2="75.00" y2="431.50" stroke="#888" stroke-width="0.6" />
<line x1="73.50" y1="430.50" x2="75.00" y2="430.50" stroke="#888" stroke-width="0.6" />
<line x1="73.50" y1="429.50" x2="76.00" y2="429.50" stroke="#888" stroke-width="0.6" />
<line x1="73.50" y1="421.50" x2="75.00" y2="421.50" stroke="#888" stroke-width="0.6" />
<line x1="73.50" y1="417.50" x2="75.00" y2="417.50" stroke="#888" stroke-width="0.6" />
<line x1="73.50" y1="414.50" x2="75.00" y2="414.50" stroke="#888" stroke-width="0.6" />
<line x1="73.50" y1="412.50" x2="75.00" y2="412.50" stroke="#888" stroke-width="0.6" />
<line x1="73.50" y1="410.50" x2="75.00" y2="410.50" stroke="#888" stroke-width="0.6" />
<line x1="73.50" y1="408.50" x2="75.00" y2="408.50" stroke="#888" stroke-width="0.6" />
<line x1="73.50" y1="407.50" x2="75.00" y2="407.50" stroke="#888" stroke-width="0.6" />
<line x1="73.50" y1="406.50" x2="75.00" y2="406.50" stroke="#888" stroke-width="0.6" />
<line x1="73.50" y1="405.50" x2="76.00" y2="405.50" stroke="#888" stroke-width="0.6" />
<line x1="73.50" y1="397.50" x2="75.00" y2="397.50" stroke="#888" stroke-width="0.6" />
<line x1="73.50" y1="393.50" x2="75.00" y2="393.50" stroke="#888" stroke-width="0.6" />
<line x1="75.50" y1="574.50" x2="75.50" y2="572.00" stroke="#888" stroke-width="0.6" />
<line x1="95.50" y1="574.50" x2="95.50" y2="573.00" stroke="#888" stroke-width="0.6" />
<line x1="107.50" y1="574.50" x2="107.50" y2="573.00" stroke="#888" stroke-width="0.6" />
<line x1="115.50" y1="574.50" x2="115.50" y2="573.00" stroke="#888" stroke-width="0.6" />
<line x1="122.50" y1="574.50" x2="122.50" y2="573.00" stroke="#888" stroke-width="0.6" />
<line x1="127.50" y1="574.50" x2="127.50" y2="573.00" stroke="#888" stroke-width="0.6" />
<line x1="132.50" y1="574.50" x2="132.50" y2="573.00" stroke="#888" stroke-width="0.6" />
<line x1="135.50" y1="574.50" x2="135.50" y2="573.00" stroke="#888" stroke-width="0.6" />
<line x1="139.50" y1="574.50" x2="139.50" y2="573.00" stroke="#888" stroke-width="0.6" />
<line x1="142.50" y1="574.50" x2="142.50" y2="572.00" stroke="#888" stroke-width="0.6" />
<line x1="162.50" y1="574.50" x2="162.50" y2="573.00" stroke="#888" stroke-width="0.6" />
<line x1="174.50" y1="574.50" x2="174.50" y2="573.00" stroke="#888" stroke-width="0.6" />
<line x1="183.50" y1="574.50" x2="183.50" y2="573.00" stroke="#888" stroke-width="0.6" />
<line x1="189.50" y1="574.50" x2="189.50" y2="573.00" stroke="#888" stroke-width="0.6" />
<line x1="195.50" y1="574.50" x2="195.50" y2="573.00" stroke="#888" stroke-width="0.6" />
<line x1="199.50" y1="574.50" x2="199.50" y2="573.00" stroke="#888" stroke-width="0.6" />
<line x1="203.50" y1="574.50" x2="203.50" y2="573.00" stroke="#888" stroke-width="0.6" />
<line x1="206.50" y1="574.50" x2="206.50" y2="573.00" stroke="#888" stroke-width="0.6" />
<line x1="210.50" y1="574.50" x2="210.50" y2="572.00" stroke="#888" stroke-width="0.6" />
<line x1="230.50" y1="574.50" x2="230.50" y2="573.00" stroke="#888" stroke-width="0.6" />
<line x1="242.50" y1="574.50" x2="242.50" y2="573.00" stroke="#888" stroke-width="0.6" />
<line x1="250.50" y1="574.50" x2="250.50" y2="573.00" stroke="#888" stroke-width="0.6" />
<line x1="257.50" y1="574.50" x2="257.50" y2="573.00" stroke="#888" stroke-width="0.6" />
<line x1="262.50" y1="574.50" x2="262.50" y2="573.00" stroke="#888" stroke-width="0.6" />
<line x1="267.50" y1="574.50" x2="267.50" y2="573.00" stroke="#888" stroke-width="0.6" />
<line x1="270.50" y1="574.50" x2="270.50" y2="573.00" stroke="#888" stroke-width="0.6" />
<line x1="274.50" y1="574.50" x2="274.50" y2="573.00" stroke="#888" stroke-width="0.6" />
<line x1="277.50" y1="574.50" x2="277.50" y2="572.00" stroke="#888" stroke-width="0.6" />
<line x1="297.50" y1="574.50" x2="297.50" y2="573.00" stroke="#888" stroke-width="0.6" />
<line x1="309.50" y1="574.50" x2="309.50" y2="573.00" stroke="#888" stroke-width="0.6" />
<line x1="318.50" y1="574.50" x2="318.50" y2="573.00" stroke="#888" stroke-width="0.6" />
<line x1="324.50" y1="574.50" x2="324.50" y2="573.00" stroke="#888" stroke-width="0.6" />
<defs><clipPath id="cpNat"><path id="natp" d="M199.60,443.80 L200.27,443.98 L201.00,444.25 L201.76,444.62 L202.54,445.09 L203.33,445.66 L204.09,446.35 L204.82,447.16 L205.50,448.10 L206.14,449.21 L206.76,450.50 L207.36,451.95 L207.94,453.49 L208.48,455.09 L209.00,456.70 L209.47,458.29 L209.90,459.80 L210.28,461.24 L210.61,462.66 L210.90,464.06 L211.16,465.47 L211.39,466.90 L211.60,468.37 L211.80,469.90 L212.00,471.50 L212.19,473.22 L212.38,475.05 L212.55,476.96 L212.70,478.89 L212.83,480.82 L212.95,482.69 L213.04,484.47 L213.10,486.10 L213.14,487.64 L213.15,489.13 L213.14,490.57 L213.11,491.93 L213.06,493.20 L212.99,494.37 L212.90,495.40 L212.80,496.30 L212.78,496.98 L212.88,497.44 L213.03,497.73 L213.13,497.93 L213.09,498.11 L212.83,498.34 L212.26,498.68 L211.30,499.20 L209.86,499.92 L207.98,500.77 L205.78,501.71 L203.37,502.71 L200.85,503.73 L198.35,504.73 L195.96,505.66 L193.80,506.50 L191.81,507.25 L189.84,507.96 L187.92,508.64 L186.04,509.27 L184.23,509.89 L182.47,510.48 L180.79,511.04 L179.20,511.60 L177.69,512.16 L176.27,512.73 L174.93,513.28 L173.64,513.81 L172.42,514.30 L171.24,514.72 L170.11,515.06 L169.00,515.30 L167.92,515.45 L166.87,515.54 L165.86,515.55 L164.89,515.50 L163.99,515.38 L163.15,515.19 L162.38,514.93 L161.70,514.60 L161.10,514.19 L160.56,513.69 L160.10,513.11 L159.71,512.46 L159.38,511.77 L159.12,511.03 L158.93,510.27 L158.80,509.50 L158.72,508.77 L158.69,508.10 L158.72,507.44 L158.82,506.72 L159.00,505.89 L159.29,504.90 L159.68,503.69 L160.20,502.20 L160.86,500.37 L161.67,498.20 L162.58,495.80 L163.60,493.25 L164.69,490.63 L165.83,488.02 L167.01,485.52 L168.20,483.20 L169.44,481.04 L170.76,478.94 L172.14,476.88 L173.56,474.88 L175.00,472.90 L176.44,470.95 L177.84,469.02 L179.20,467.10 L180.54,465.15 L181.91,463.16 L183.27,461.16 L184.62,459.21 L185.93,457.32 L187.17,455.55 L188.34,453.93 L189.40,452.50 L190.35,451.26 L191.21,450.18 L192.00,449.24 L192.72,448.42 L193.39,447.69 L194.04,447.05 L194.67,446.45 L195.30,445.90 L195.90,445.38 L196.45,444.91 L196.96,444.50 L197.45,444.17 L197.94,443.92 L198.45,443.77 L199.00,443.73 Z"/></clipPath></defs>
<clipPath id="cpPol"><path d="M224.50,455.40 L225.73,455.59 L227.04,455.90 L228.39,456.31 L229.74,456.82 L231.08,457.44 L232.38,458.14 L233.59,458.93 L234.70,459.80 L235.72,460.79 L236.69,461.91 L237.60,463.13 L238.45,464.44 L239.24,465.81 L239.96,467.21 L240.62,468.61 L241.20,470.00 L241.71,471.41 L242.14,472.89 L242.50,474.41 L242.79,475.94 L243.03,477.46 L243.20,478.94 L243.33,480.37 L243.40,481.70 L243.44,482.96 L243.44,484.17 L243.40,485.34 L243.29,486.47 L243.12,487.55 L242.85,488.58 L242.48,489.56 L242.00,490.50 L241.41,491.38 L240.73,492.19 L239.95,492.96 L239.09,493.67 L238.13,494.36 L237.08,495.02 L235.94,495.66 L234.70,496.30 L233.30,496.98 L231.71,497.70 L229.98,498.44 L228.19,499.14 L226.38,499.76 L224.62,500.25 L222.97,500.58 L221.50,500.70 L220.18,500.66 L218.94,500.53 L217.78,500.27 L216.69,499.87 L215.66,499.30 L214.67,498.53 L213.72,497.54 L212.80,496.30 L211.87,494.72 L210.92,492.78 L209.99,490.57 L209.12,488.19 L208.34,485.73 L207.68,483.28 L207.19,480.94 L206.90,478.80 L206.83,476.78 L206.96,474.76 L207.25,472.76 L207.67,470.82 L208.18,468.96 L208.74,467.22 L209.33,465.62 L209.90,464.20 L210.47,462.96 L211.08,461.88 L211.74,460.95 L212.44,460.12 L213.18,459.40 L213.97,458.75 L214.81,458.16 L215.70,457.60 L216.65,457.07 L217.66,456.59 L218.72,456.16 L219.82,455.81 L220.97,455.55 L222.13,455.38 L223.31,455.33 Z"/></clipPath>
<clipPath id="cpFoam"><ellipse cx="135.6" cy="519.6" rx="24.9" ry="63.4" transform="rotate(53.57 135.6 519.6)"/></clipPath>
<ellipse cx="135.6" cy="519.6" rx="24.9" ry="63.4" transform="rotate(53.57 135.6 519.6)" fill="#dfeab9" stroke="#404040" stroke-width="0.55"/>
<path d="M199.60,443.80 L200.27,443.98 L201.00,444.25 L201.76,444.62 L202.54,445.09 L203.33,445.66 L204.09,446.35 L204.82,447.16 L205.50,448.10 L206.14,449.21 L206.76,450.50 L207.36,451.95 L207.94,453.49 L208.48,455.09 L209.00,456.70 L209.47,458.29 L209.90,459.80 L210.28,461.24 L210.61,462.66 L210.90,464.06 L211.16,465.47 L211.39,466.90 L211.60,468.37 L211.80,469.90 L212.00,471.50 L212.19,473.22 L212.38,475.05 L212.55,476.96 L212.70,478.89 L212.83,480.82 L212.95,482.69 L213.04,484.47 L213.10,486.10 L213.14,487.64 L213.15,489.13 L213.14,490.57 L213.11,491.93 L213.06,493.20 L212.99,494.37 L212.90,495.40 L212.80,496.30 L212.78,496.98 L212.88,497.44 L213.03,497.73 L213.13,497.93 L213.09,498.11 L212.83,498.34 L212.26,498.68 L211.30,499.20 L209.86,499.92 L207.98,500.77 L205.78,501.71 L203.37,502.71 L200.85,503.73 L198.35,504.73 L195.96,505.66 L193.80,506.50 L191.81,507.25 L189.84,507.96 L187.92,508.64 L186.04,509.27 L184.23,509.89 L182.47,510.48 L180.79,511.04 L179.20,511.60 L177.69,512.16 L176.27,512.73 L174.93,513.28 L173.64,513.81 L172.42,514.30 L171.24,514.72 L170.11,515.06 L169.00,515.30 L167.92,515.45 L166.87,515.54 L165.86,515.55 L164.89,515.50 L163.99,515.38 L163.15,515.19 L162.38,514.93 L161.70,514.60 L161.10,514.19 L160.56,513.69 L160.10,513.11 L159.71,512.46 L159.38,511.77 L159.12,511.03 L158.93,510.27 L158.80,509.50 L158.72,508.77 L158.69,508.10 L158.72,507.44 L158.82,506.72 L159.00,505.89 L159.29,504.90 L159.68,503.69 L160.20,502.20 L160.86,500.37 L161.67,498.20 L162.58,495.80 L163.60,493.25 L164.69,490.63 L165.83,488.02 L167.01,485.52 L168.20,483.20 L169.44,481.04 L170.76,478.94 L172.14,476.88 L173.56,474.88 L175.00,472.90 L176.44,470.95 L177.84,469.02 L179.20,467.10 L180.54,465.15 L181.91,463.16 L183.27,461.16 L184.62,459.21 L185.93,457.32 L187.17,455.55 L188.34,453.93 L189.40,452.50 L190.35,451.26 L191.21,450.18 L192.00,449.24 L192.72,448.42 L193.39,447.69 L194.04,447.05 L194.67,446.45 L195.30,445.90 L195.90,445.38 L196.45,444.91 L196.96,444.50 L197.45,444.17 L197.94,443.92 L198.45,443.77 L199.00,443.73 Z" fill="#9ed5ad" stroke="#404040" stroke-width="0.55"/>
<path d="M199.60,443.80 L200.27,443.98 L201.00,444.25 L201.76,444.62 L202.54,445.09 L203.33,445.66 L204.09,446.35 L204.82,447.16 L205.50,448.10 L206.14,449.21 L206.76,450.50 L207.36,451.95 L207.94,453.49 L208.48,455.09 L209.00,456.70 L209.47,458.29 L209.90,459.80 L210.28,461.24 L210.61,462.66 L210.90,464.06 L211.16,465.47 L211.39,466.90 L211.60,468.37 L211.80,469.90 L212.00,471.50 L212.19,473.22 L212.38,475.05 L212.55,476.96 L212.70,478.89 L212.83,480.82 L212.95,482.69 L213.04,484.47 L213.10,486.10 L213.14,487.64 L213.15,489.13 L213.14,490.57 L213.11,491.93 L213.06,493.20 L212.99,494.37 L212.90,495.40 L212.80,496.30 L212.78,496.98 L212.88,497.44 L213.03,497.73 L213.13,497.93 L213.09,498.11 L212.83,498.34 L212.26,498.68 L211.30,499.20 L209.86,499.92 L207.98,500.77 L205.78,501.71 L203.37,502.71 L200.85,503.73 L198.35,504.73 L195.96,505.66 L193.80,506.50 L191.81,507.25 L189.84,507.96 L187.92,508.64 L186.04,509.27 L184.23,509.89 L182.47,510.48 L180.79,511.04 L179.20,511.60 L177.69,512.16 L176.27,512.73 L174.93,513.28 L173.64,513.81 L172.42,514.30 L171.24,514.72 L170.11,515.06 L169.00,515.30 L167.92,515.45 L166.87,515.54 L165.86,515.55 L164.89,515.50 L163.99,515.38 L163.15,515.19 L162.38,514.93 L161.70,514.60 L161.10,514.19 L160.56,513.69 L160.10,513.11 L159.71,512.46 L159.38,511.77 L159.12,511.03 L158.93,510.27 L158.80,509.50 L158.72,508.77 L158.69,508.10 L158.72,507.44 L158.82,506.72 L159.00,505.89 L159.29,504.90 L159.68,503.69 L160.20,502.20 L160.86,500.37 L161.67,498.20 L162.58,495.80 L163.60,493.25 L164.69,490.63 L165.83,488.02 L167.01,485.52 L168.20,483.20 L169.44,481.04 L170.76,478.94 L172.14,476.88 L173.56,474.88 L175.00,472.90 L176.44,470.95 L177.84,469.02 L179.20,467.10 L180.54,465.15 L181.91,463.16 L183.27,461.16 L184.62,459.21 L185.93,457.32 L187.17,455.55 L188.34,453.93 L189.40,452.50 L190.35,451.26 L191.21,450.18 L192.00,449.24 L192.72,448.42 L193.39,447.69 L194.04,447.05 L194.67,446.45 L195.30,445.90 L195.90,445.38 L196.45,444.91 L196.96,444.50 L197.45,444.17 L197.94,443.92 L198.45,443.77 L199.00,443.73 Z" fill="#8acc8b" clip-path="url(#cpFoam)" stroke="none"/>
<ellipse cx="135.6" cy="519.6" rx="24.9" ry="63.4" transform="rotate(53.57 135.6 519.6)" fill="none" stroke="#404040" stroke-width="0.55"/>
<path d="M224.50,455.40 L225.73,455.59 L227.04,455.90 L228.39,456.31 L229.74,456.82 L231.08,457.44 L232.38,458.14 L233.59,458.93 L234.70,459.80 L235.72,460.79 L236.69,461.91 L237.60,463.13 L238.45,464.44 L239.24,465.81 L239.96,467.21 L240.62,468.61 L241.20,470.00 L241.71,471.41 L242.14,472.89 L242.50,474.41 L242.79,475.94 L243.03,477.46 L243.20,478.94 L243.33,480.37 L243.40,481.70 L243.44,482.96 L243.44,484.17 L243.40,485.34 L243.29,486.47 L243.12,487.55 L242.85,488.58 L242.48,489.56 L242.00,490.50 L241.41,491.38 L240.73,492.19 L239.95,492.96 L239.09,493.67 L238.13,494.36 L237.08,495.02 L235.94,495.66 L234.70,496.30 L233.30,496.98 L231.71,497.70 L229.98,498.44 L228.19,499.14 L226.38,499.76 L224.62,500.25 L222.97,500.58 L221.50,500.70 L220.18,500.66 L218.94,500.53 L217.78,500.27 L216.69,499.87 L215.66,499.30 L214.67,498.53 L213.72,497.54 L212.80,496.30 L211.87,494.72 L210.92,492.78 L209.99,490.57 L209.12,488.19 L208.34,485.73 L207.68,483.28 L207.19,480.94 L206.90,478.80 L206.83,476.78 L206.96,474.76 L207.25,472.76 L207.67,470.82 L208.18,468.96 L208.74,467.22 L209.33,465.62 L209.90,464.20 L210.47,462.96 L211.08,461.88 L211.74,460.95 L212.44,460.12 L213.18,459.40 L213.97,458.75 L214.81,458.16 L215.70,457.60 L216.65,457.07 L217.66,456.59 L218.72,456.16 L219.82,455.81 L220.97,455.55 L222.13,455.38 L223.31,455.33 Z" fill="#93b4de" stroke="#404040" stroke-width="0.55"/>
<path d="M199.60,443.80 L200.27,443.98 L201.00,444.25 L201.76,444.62 L202.54,445.09 L203.33,445.66 L204.09,446.35 L204.82,447.16 L205.50,448.10 L206.14,449.21 L206.76,450.50 L207.36,451.95 L207.94,453.49 L208.48,455.09 L209.00,456.70 L209.47,458.29 L209.90,459.80 L210.28,461.24 L210.61,462.66 L210.90,464.06 L211.16,465.47 L211.39,466.90 L211.60,468.37 L211.80,469.90 L212.00,471.50 L212.19,473.22 L212.38,475.05 L212.55,476.96 L212.70,478.89 L212.83,480.82 L212.95,482.69 L213.04,484.47 L213.10,486.10 L213.14,487.64 L213.15,489.13 L213.14,490.57 L213.11,491.93 L213.06,493.20 L212.99,494.37 L212.90,495.40 L212.80,496.30 L212.78,496.98 L212.88,497.44 L213.03,497.73 L213.13,497.93 L213.09,498.11 L212.83,498.34 L212.26,498.68 L211.30,499.20 L209.86,499.92 L207.98,500.77 L205.78,501.71 L203.37,502.71 L200.85,503.73 L198.35,504.73 L195.96,505.66 L193.80,506.50 L191.81,507.25 L189.84,507.96 L187.92,508.64 L186.04,509.27 L184.23,509.89 L182.47,510.48 L180.79,511.04 L179.20,511.60 L177.69,512.16 L176.27,512.73 L174.93,513.28 L173.64,513.81 L172.42,514.30 L171.24,514.72 L170.11,515.06 L169.00,515.30 L167.92,515.45 L166.87,515.54 L165.86,515.55 L164.89,515.50 L163.99,515.38 L163.15,515.19 L162.38,514.93 L161.70,514.60 L161.10,514.19 L160.56,513.69 L160.10,513.11 L159.71,512.46 L159.38,511.77 L159.12,511.03 L158.93,510.27 L158.80,509.50 L158.72,508.77 L158.69,508.10 L158.72,507.44 L158.82,506.72 L159.00,505.89 L159.29,504.90 L159.68,503.69 L160.20,502.20 L160.86,500.37 L161.67,498.20 L162.58,495.80 L163.60,493.25 L164.69,490.63 L165.83,488.02 L167.01,485.52 L168.20,483.20 L169.44,481.04 L170.76,478.94 L172.14,476.88 L173.56,474.88 L175.00,472.90 L176.44,470.95 L177.84,469.02 L179.20,467.10 L180.54,465.15 L181.91,463.16 L183.27,461.16 L184.62,459.21 L185.93,457.32 L187.17,455.55 L188.34,453.93 L189.40,452.50 L190.35,451.26 L191.21,450.18 L192.00,449.24 L192.72,448.42 L193.39,447.69 L194.04,447.05 L194.67,446.45 L195.30,445.90 L195.90,445.38 L196.45,444.91 L196.96,444.50 L197.45,444.17 L197.94,443.92 L198.45,443.77 L199.00,443.73 Z" fill="#4ea79f" clip-path="url(#cpPol)" stroke="none"/>
<path d="M199.60,443.80 L200.27,443.98 L201.00,444.25 L201.76,444.62 L202.54,445.09 L203.33,445.66 L204.09,446.35 L204.82,447.16 L205.50,448.10 L206.14,449.21 L206.76,450.50 L207.36,451.95 L207.94,453.49 L208.48,455.09 L209.00,456.70 L209.47,458.29 L209.90,459.80 L210.28,461.24 L210.61,462.66 L210.90,464.06 L211.16,465.47 L211.39,466.90 L211.60,468.37 L211.80,469.90 L212.00,471.50 L212.19,473.22 L212.38,475.05 L212.55,476.96 L212.70,478.89 L212.83,480.82 L212.95,482.69 L213.04,484.47 L213.10,486.10 L213.14,487.64 L213.15,489.13 L213.14,490.57 L213.11,491.93 L213.06,493.20 L212.99,494.37 L212.90,495.40 L212.80,496.30 L212.78,496.98 L212.88,497.44 L213.03,497.73 L213.13,497.93 L213.09,498.11 L212.83,498.34 L212.26,498.68 L211.30,499.20 L209.86,499.92 L207.98,500.77 L205.78,501.71 L203.37,502.71 L200.85,503.73 L198.35,504.73 L195.96,505.66 L193.80,506.50 L191.81,507.25 L189.84,507.96 L187.92,508.64 L186.04,509.27 L184.23,509.89 L182.47,510.48 L180.79,511.04 L179.20,511.60 L177.69,512.16 L176.27,512.73 L174.93,513.28 L173.64,513.81 L172.42,514.30 L171.24,514.72 L170.11,515.06 L169.00,515.30 L167.92,515.45 L166.87,515.54 L165.86,515.55 L164.89,515.50 L163.99,515.38 L163.15,515.19 L162.38,514.93 L161.70,514.60 L161.10,514.19 L160.56,513.69 L160.10,513.11 L159.71,512.46 L159.38,511.77 L159.12,511.03 L158.93,510.27 L158.80,509.50 L158.72,508.77 L158.69,508.10 L158.72,507.44 L158.82,506.72 L159.00,505.89 L159.29,504.90 L159.68,503.69 L160.20,502.20 L160.86,500.37 L161.67,498.20 L162.58,495.80 L163.60,493.25 L164.69,490.63 L165.83,488.02 L167.01,485.52 L168.20,483.20 L169.44,481.04 L170.76,478.94 L172.14,476.88 L173.56,474.88 L175.00,472.90 L176.44,470.95 L177.84,469.02 L179.20,467.10 L180.54,465.15 L181.91,463.16 L183.27,461.16 L184.62,459.21 L185.93,457.32 L187.17,455.55 L188.34,453.93 L189.40,452.50 L190.35,451.26 L191.21,450.18 L192.00,449.24 L192.72,448.42 L193.39,447.69 L194.04,447.05 L194.67,446.45 L195.30,445.90 L195.90,445.38 L196.45,444.91 L196.96,444.50 L197.45,444.17 L197.94,443.92 L198.45,443.77 L199.00,443.73 Z" fill="none" stroke="#404040" stroke-width="0.55"/>
<path d="M224.50,455.40 L225.73,455.59 L227.04,455.90 L228.39,456.31 L229.74,456.82 L231.08,457.44 L232.38,458.14 L233.59,458.93 L234.70,459.80 L235.72,460.79 L236.69,461.91 L237.60,463.13 L238.45,464.44 L239.24,465.81 L239.96,467.21 L240.62,468.61 L241.20,470.00 L241.71,471.41 L242.14,472.89 L242.50,474.41 L242.79,475.94 L243.03,477.46 L243.20,478.94 L243.33,480.37 L243.40,481.70 L243.44,482.96 L243.44,484.17 L243.40,485.34 L243.29,486.47 L243.12,487.55 L242.85,488.58 L242.48,489.56 L242.00,490.50 L241.41,491.38 L240.73,492.19 L239.95,492.96 L239.09,493.67 L238.13,494.36 L237.08,495.02 L235.94,495.66 L234.70,496.30 L233.30,496.98 L231.71,497.70 L229.98,498.44 L228.19,499.14 L226.38,499.76 L224.62,500.25 L222.97,500.58 L221.50,500.70 L220.18,500.66 L218.94,500.53 L217.78,500.27 L216.69,499.87 L215.66,499.30 L214.67,498.53 L213.72,497.54 L212.80,496.30 L211.87,494.72 L210.92,492.78 L209.99,490.57 L209.12,488.19 L208.34,485.73 L207.68,483.28 L207.19,480.94 L206.90,478.80 L206.83,476.78 L206.96,474.76 L207.25,472.76 L207.67,470.82 L208.18,468.96 L208.74,467.22 L209.33,465.62 L209.90,464.20 L210.47,462.96 L211.08,461.88 L211.74,460.95 L212.44,460.12 L213.18,459.40 L213.97,458.75 L214.81,458.16 L215.70,457.60 L216.65,457.07 L217.66,456.59 L218.72,456.16 L219.82,455.81 L220.97,455.55 L222.13,455.38 L223.31,455.33 Z" fill="none" stroke="#404040" stroke-width="0.55"/>
<ellipse cx="218.3" cy="538.2" rx="14.8" ry="35.1" fill="#cfe9f7" stroke="#404040" stroke-width="0.55"/>
<clipPath id="cpCer"><path d="M229.40,431.60 L229.16,430.40 L229.05,428.91 L229.03,427.25 L229.07,425.55 L229.14,423.92 L229.20,422.50 L229.25,421.26 L229.31,420.11 L229.40,419.03 L229.52,418.03 L229.69,417.08 L229.90,416.20 L230.15,415.39 L230.44,414.65 L230.76,413.98 L231.14,413.35 L231.58,412.76 L232.10,412.20 L232.69,411.66 L233.33,411.17 L234.04,410.71 L234.81,410.29 L235.67,409.88 L236.60,409.50 L237.66,409.14 L238.84,408.80 L240.09,408.48 L241.37,408.19 L242.63,407.93 L243.80,407.70 L244.85,407.51 L245.81,407.37 L246.74,407.25 L247.70,407.14 L248.77,407.03 L250.00,406.90 L251.43,406.74 L253.00,406.56 L254.68,406.38 L256.40,406.20 L258.12,406.04 L259.80,405.90 L261.43,405.78 L263.06,405.68 L264.69,405.59 L266.33,405.51 L267.96,405.45 L269.60,405.40 L271.27,405.36 L272.97,405.33 L274.68,405.31 L276.35,405.31 L277.97,405.34 L279.50,405.40 L280.96,405.49 L282.36,405.61 L283.71,405.76 L284.99,405.92 L286.19,406.10 L287.30,406.30 L288.33,406.50 L289.29,406.72 L290.17,406.95 L290.96,407.20 L291.64,407.49 L292.20,407.80 L292.63,408.16 L292.94,408.56 L293.14,408.99 L293.26,409.44 L293.31,409.88 L293.30,410.30 L293.21,410.72 L293.03,411.14 L292.77,411.56 L292.47,411.97 L292.17,412.35 L291.90,412.70 L291.69,412.96 L291.54,413.12 L291.38,413.26 L291.16,413.44 L290.82,413.73 L290.30,414.20 L289.61,414.87 L288.80,415.69 L287.86,416.62 L286.81,417.62 L285.66,418.63 L284.40,419.60 L282.99,420.58 L281.43,421.60 L279.75,422.64 L278.02,423.66 L276.28,424.63 L274.60,425.50 L272.95,426.27 L271.30,426.96 L269.65,427.59 L268.00,428.20 L266.35,428.79 L264.70,429.40 L263.04,430.04 L261.36,430.68 L259.68,431.32 L258.02,431.93 L256.42,432.50 L254.90,433.00 L253.46,433.44 L252.09,433.84 L250.76,434.19 L249.48,434.50 L248.23,434.77 L247.00,435.00 L245.81,435.20 L244.67,435.36 L243.56,435.48 L242.46,435.56 L241.34,435.60 L240.20,435.60 L238.98,435.56 L237.70,435.49 L236.40,435.38 L235.15,435.22 L234.00,434.99 L233.00,434.70 L232.15,434.38 L231.41,434.05 L230.76,433.66 L230.21,433.16 L229.76,432.49 Z"/></clipPath>
<clipPath id="cpComp"><ellipse cx="226.0" cy="435.6" rx="5.5" ry="14.5" transform="rotate(-10 226 435.6)"/></clipPath>
<path d="M229.40,431.60 L229.16,430.40 L229.05,428.91 L229.03,427.25 L229.07,425.55 L229.14,423.92 L229.20,422.50 L229.25,421.26 L229.31,420.11 L229.40,419.03 L229.52,418.03 L229.69,417.08 L229.90,416.20 L230.15,415.39 L230.44,414.65 L230.76,413.98 L231.14,413.35 L231.58,412.76 L232.10,412.20 L232.69,411.66 L233.33,411.17 L234.04,410.71 L234.81,410.29 L235.67,409.88 L236.60,409.50 L237.66,409.14 L238.84,408.80 L240.09,408.48 L241.37,408.19 L242.63,407.93 L243.80,407.70 L244.85,407.51 L245.81,407.37 L246.74,407.25 L247.70,407.14 L248.77,407.03 L250.00,406.90 L251.43,406.74 L253.00,406.56 L254.68,406.38 L256.40,406.20 L258.12,406.04 L259.80,405.90 L261.43,405.78 L263.06,405.68 L264.69,405.59 L266.33,405.51 L267.96,405.45 L269.60,405.40 L271.27,405.36 L272.97,405.33 L274.68,405.31 L276.35,405.31 L277.97,405.34 L279.50,405.40 L280.96,405.49 L282.36,405.61 L283.71,405.76 L284.99,405.92 L286.19,406.10 L287.30,406.30 L288.33,406.50 L289.29,406.72 L290.17,406.95 L290.96,407.20 L291.64,407.49 L292.20,407.80 L292.63,408.16 L292.94,408.56 L293.14,408.99 L293.26,409.44 L293.31,409.88 L293.30,410.30 L293.21,410.72 L293.03,411.14 L292.77,411.56 L292.47,411.97 L292.17,412.35 L291.90,412.70 L291.69,412.96 L291.54,413.12 L291.38,413.26 L291.16,413.44 L290.82,413.73 L290.30,414.20 L289.61,414.87 L288.80,415.69 L287.86,416.62 L286.81,417.62 L285.66,418.63 L284.40,419.60 L282.99,420.58 L281.43,421.60 L279.75,422.64 L278.02,423.66 L276.28,424.63 L274.60,425.50 L272.95,426.27 L271.30,426.96 L269.65,427.59 L268.00,428.20 L266.35,428.79 L264.70,429.40 L263.04,430.04 L261.36,430.68 L259.68,431.32 L258.02,431.93 L256.42,432.50 L254.90,433.00 L253.46,433.44 L252.09,433.84 L250.76,434.19 L249.48,434.50 L248.23,434.77 L247.00,435.00 L245.81,435.20 L244.67,435.36 L243.56,435.48 L242.46,435.56 L241.34,435.60 L240.20,435.60 L238.98,435.56 L237.70,435.49 L236.40,435.38 L235.15,435.22 L234.00,434.99 L233.00,434.70 L232.15,434.38 L231.41,434.05 L230.76,433.66 L230.21,433.16 L229.76,432.49 Z" fill="#faf4aa" stroke="#404040" stroke-width="0.55"/>
<ellipse cx="226.0" cy="435.6" rx="5.5" ry="14.5" transform="rotate(-10 226 435.6)" fill="#c6a2d4" stroke="#404040" stroke-width="0.55"/>
<path d="M224.50,436.50 L224.85,435.78 L225.41,434.92 L226.16,433.97 L227.09,432.98 L228.17,432.00 L229.40,431.10 L230.84,430.26 L232.53,429.44 L234.38,428.64 L236.30,427.86 L238.20,427.08 L240.00,426.30 L241.70,425.52 L243.39,424.73 L245.05,423.95 L246.70,423.19 L248.35,422.47 L250.00,421.80 L251.64,421.18 L253.28,420.61 L254.91,420.07 L256.54,419.56 L258.17,419.07 L259.80,418.60 L261.43,418.15 L263.06,417.73 L264.69,417.33 L266.33,416.94 L267.96,416.57 L269.60,416.20 L271.25,415.83 L272.90,415.47 L274.55,415.11 L276.20,414.78 L277.85,414.47 L279.50,414.20 L281.18,413.97 L282.92,413.76 L284.65,413.58 L286.33,413.43 L287.89,413.30 L289.30,413.20 L290.53,413.12 L291.63,413.06 L292.62,413.02 L293.53,413.01 L294.38,413.04 L295.20,413.10 L295.99,413.19 L296.74,413.31 L297.42,413.46 L298.05,413.65 L298.61,413.89 L299.10,414.20 L299.52,414.56 L299.88,414.97 L300.18,415.43 L300.40,415.95 L300.54,416.54 L300.60,417.20 L300.58,417.91 L300.48,418.66 L300.30,419.48 L300.04,420.39 L299.71,421.42 L299.30,422.60 L298.80,423.97 L298.21,425.50 L297.54,427.16 L296.80,428.90 L296.02,430.66 L295.20,432.40 L294.32,434.19 L293.37,436.07 L292.36,437.98 L291.33,439.85 L290.30,441.61 L289.30,443.20 L288.29,444.65 L287.26,446.01 L286.23,447.27 L285.22,448.39 L284.27,449.34 L283.40,450.10 L282.70,450.61 L282.17,450.88 L281.70,450.98 L281.17,450.99 L280.47,450.97 L279.50,451.00 L278.20,451.06 L276.64,451.10 L274.92,451.11 L273.11,451.10 L271.31,451.06 L269.60,451.00 L267.96,450.91 L266.33,450.81 L264.69,450.68 L263.06,450.51 L261.43,450.32 L259.80,450.10 L258.17,449.85 L256.54,449.56 L254.91,449.25 L253.28,448.90 L251.64,448.52 L250.00,448.10 L248.34,447.63 L246.67,447.10 L244.99,446.54 L243.32,445.96 L241.65,445.37 L240.00,444.80 L238.30,444.23 L236.53,443.65 L234.76,443.07 L233.09,442.49 L231.57,441.93 L230.30,441.40 L229.30,440.89 L228.53,440.40 L227.92,439.92 L227.41,439.46 L226.96,439.02 L226.50,438.60 L225.98,438.25 L225.44,437.97 L224.96,437.71 L224.59,437.42 L224.41,437.03 Z" fill="#f7aa8d" stroke="#404040" stroke-width="0.55"/>
<path d="M224.50,436.50 L224.85,435.78 L225.41,434.92 L226.16,433.97 L227.09,432.98 L228.17,432.00 L229.40,431.10 L230.84,430.26 L232.53,429.44 L234.38,428.64 L236.30,427.86 L238.20,427.08 L240.00,426.30 L241.70,425.52 L243.39,424.73 L245.05,423.95 L246.70,423.19 L248.35,422.47 L250.00,421.80 L251.64,421.18 L253.28,420.61 L254.91,420.07 L256.54,419.56 L258.17,419.07 L259.80,418.60 L261.43,418.15 L263.06,417.73 L264.69,417.33 L266.33,416.94 L267.96,416.57 L269.60,416.20 L271.25,415.83 L272.90,415.47 L274.55,415.11 L276.20,414.78 L277.85,414.47 L279.50,414.20 L281.18,413.97 L282.92,413.76 L284.65,413.58 L286.33,413.43 L287.89,413.30 L289.30,413.20 L290.53,413.12 L291.63,413.06 L292.62,413.02 L293.53,413.01 L294.38,413.04 L295.20,413.10 L295.99,413.19 L296.74,413.31 L297.42,413.46 L298.05,413.65 L298.61,413.89 L299.10,414.20 L299.52,414.56 L299.88,414.97 L300.18,415.43 L300.40,415.95 L300.54,416.54 L300.60,417.20 L300.58,417.91 L300.48,418.66 L300.30,419.48 L300.04,420.39 L299.71,421.42 L299.30,422.60 L298.80,423.97 L298.21,425.50 L297.54,427.16 L296.80,428.90 L296.02,430.66 L295.20,432.40 L294.32,434.19 L293.37,436.07 L292.36,437.98 L291.33,439.85 L290.30,441.61 L289.30,443.20 L288.29,444.65 L287.26,446.01 L286.23,447.27 L285.22,448.39 L284.27,449.34 L283.40,450.10 L282.70,450.61 L282.17,450.88 L281.70,450.98 L281.17,450.99 L280.47,450.97 L279.50,451.00 L278.20,451.06 L276.64,451.10 L274.92,451.11 L273.11,451.10 L271.31,451.06 L269.60,451.00 L267.96,450.91 L266.33,450.81 L264.69,450.68 L263.06,450.51 L261.43,450.32 L259.80,450.10 L258.17,449.85 L256.54,449.56 L254.91,449.25 L253.28,448.90 L251.64,448.52 L250.00,448.10 L248.34,447.63 L246.67,447.10 L244.99,446.54 L243.32,445.96 L241.65,445.37 L240.00,444.80 L238.30,444.23 L236.53,443.65 L234.76,443.07 L233.09,442.49 L231.57,441.93 L230.30,441.40 L229.30,440.89 L228.53,440.40 L227.92,439.92 L227.41,439.46 L226.96,439.02 L226.50,438.60 L225.98,438.25 L225.44,437.97 L224.96,437.71 L224.59,437.42 L224.41,437.03 Z" fill="#f8c36a" clip-path="url(#cpCer)" stroke="none"/>
<path d="M224.50,436.50 L224.85,435.78 L225.41,434.92 L226.16,433.97 L227.09,432.98 L228.17,432.00 L229.40,431.10 L230.84,430.26 L232.53,429.44 L234.38,428.64 L236.30,427.86 L238.20,427.08 L240.00,426.30 L241.70,425.52 L243.39,424.73 L245.05,423.95 L246.70,423.19 L248.35,422.47 L250.00,421.80 L251.64,421.18 L253.28,420.61 L254.91,420.07 L256.54,419.56 L258.17,419.07 L259.80,418.60 L261.43,418.15 L263.06,417.73 L264.69,417.33 L266.33,416.94 L267.96,416.57 L269.60,416.20 L271.25,415.83 L272.90,415.47 L274.55,415.11 L276.20,414.78 L277.85,414.47 L279.50,414.20 L281.18,413.97 L282.92,413.76 L284.65,413.58 L286.33,413.43 L287.89,413.30 L289.30,413.20 L290.53,413.12 L291.63,413.06 L292.62,413.02 L293.53,413.01 L294.38,413.04 L295.20,413.10 L295.99,413.19 L296.74,413.31 L297.42,413.46 L298.05,413.65 L298.61,413.89 L299.10,414.20 L299.52,414.56 L299.88,414.97 L300.18,415.43 L300.40,415.95 L300.54,416.54 L300.60,417.20 L300.58,417.91 L300.48,418.66 L300.30,419.48 L300.04,420.39 L299.71,421.42 L299.30,422.60 L298.80,423.97 L298.21,425.50 L297.54,427.16 L296.80,428.90 L296.02,430.66 L295.20,432.40 L294.32,434.19 L293.37,436.07 L292.36,437.98 L291.33,439.85 L290.30,441.61 L289.30,443.20 L288.29,444.65 L287.26,446.01 L286.23,447.27 L285.22,448.39 L284.27,449.34 L283.40,450.10 L282.70,450.61 L282.17,450.88 L281.70,450.98 L281.17,450.99 L280.47,450.97 L279.50,451.00 L278.20,451.06 L276.64,451.10 L274.92,451.11 L273.11,451.10 L271.31,451.06 L269.60,451.00 L267.96,450.91 L266.33,450.81 L264.69,450.68 L263.06,450.51 L261.43,450.32 L259.80,450.10 L258.17,449.85 L256.54,449.56 L254.91,449.25 L253.28,448.90 L251.64,448.52 L250.00,448.10 L248.34,447.63 L246.67,447.10 L244.99,446.54 L243.32,445.96 L241.65,445.37 L240.00,444.80 L238.30,444.23 L236.53,443.65 L234.76,443.07 L233.09,442.49 L231.57,441.93 L230.30,441.40 L229.30,440.89 L228.53,440.40 L227.92,439.92 L227.41,439.46 L226.96,439.02 L226.50,438.60 L225.98,438.25 L225.44,437.97 L224.96,437.71 L224.59,437.42 L224.41,437.03 Z" fill="#cc7399" clip-path="url(#cpComp)" stroke="none"/>
<path d="M224.50,436.50 L224.85,435.78 L225.41,434.92 L226.16,433.97 L227.09,432.98 L228.17,432.00 L229.40,431.10 L230.84,430.26 L232.53,429.44 L234.38,428.64 L236.30,427.86 L238.20,427.08 L240.00,426.30 L241.70,425.52 L243.39,424.73 L245.05,423.95 L246.70,423.19 L248.35,422.47 L250.00,421.80 L251.64,421.18 L253.28,420.61 L254.91,420.07 L256.54,419.56 L258.17,419.07 L259.80,418.60 L261.43,418.15 L263.06,417.73 L264.69,417.33 L266.33,416.94 L267.96,416.57 L269.60,416.20 L271.25,415.83 L272.90,415.47 L274.55,415.11 L276.20,414.78 L277.85,414.47 L279.50,414.20 L281.18,413.97 L282.92,413.76 L284.65,413.58 L286.33,413.43 L287.89,413.30 L289.30,413.20 L290.53,413.12 L291.63,413.06 L292.62,413.02 L293.53,413.01 L294.38,413.04 L295.20,413.10 L295.99,413.19 L296.74,413.31 L297.42,413.46 L298.05,413.65 L298.61,413.89 L299.10,414.20 L299.52,414.56 L299.88,414.97 L300.18,415.43 L300.40,415.95 L300.54,416.54 L300.60,417.20 L300.58,417.91 L300.48,418.66 L300.30,419.48 L300.04,420.39 L299.71,421.42 L299.30,422.60 L298.80,423.97 L298.21,425.50 L297.54,427.16 L296.80,428.90 L296.02,430.66 L295.20,432.40 L294.32,434.19 L293.37,436.07 L292.36,437.98 L291.33,439.85 L290.30,441.61 L289.30,443.20 L288.29,444.65 L287.26,446.01 L286.23,447.27 L285.22,448.39 L284.27,449.34 L283.40,450.10 L282.70,450.61 L282.17,450.88 L281.70,450.98 L281.17,450.99 L280.47,450.97 L279.50,451.00 L278.20,451.06 L276.64,451.10 L274.92,451.11 L273.11,451.10 L271.31,451.06 L269.60,451.00 L267.96,450.91 L266.33,450.81 L264.69,450.68 L263.06,450.51 L261.43,450.32 L259.80,450.10 L258.17,449.85 L256.54,449.56 L254.91,449.25 L253.28,448.90 L251.64,448.52 L250.00,448.10 L248.34,447.63 L246.67,447.10 L244.99,446.54 L243.32,445.96 L241.65,445.37 L240.00,444.80 L238.30,444.23 L236.53,443.65 L234.76,443.07 L233.09,442.49 L231.57,441.93 L230.30,441.40 L229.30,440.89 L228.53,440.40 L227.92,439.92 L227.41,439.46 L226.96,439.02 L226.50,438.60 L225.98,438.25 L225.44,437.97 L224.96,437.71 L224.59,437.42 L224.41,437.03 Z" fill="none" stroke="#404040" stroke-width="0.55"/>
<path d="M229.40,431.60 L229.16,430.40 L229.05,428.91 L229.03,427.25 L229.07,425.55 L229.14,423.92 L229.20,422.50 L229.25,421.26 L229.31,420.11 L229.40,419.03 L229.52,418.03 L229.69,417.08 L229.90,416.20 L230.15,415.39 L230.44,414.65 L230.76,413.98 L231.14,413.35 L231.58,412.76 L232.10,412.20 L232.69,411.66 L233.33,411.17 L234.04,410.71 L234.81,410.29 L235.67,409.88 L236.60,409.50 L237.66,409.14 L238.84,408.80 L240.09,408.48 L241.37,408.19 L242.63,407.93 L243.80,407.70 L244.85,407.51 L245.81,407.37 L246.74,407.25 L247.70,407.14 L248.77,407.03 L250.00,406.90 L251.43,406.74 L253.00,406.56 L254.68,406.38 L256.40,406.20 L258.12,406.04 L259.80,405.90 L261.43,405.78 L263.06,405.68 L264.69,405.59 L266.33,405.51 L267.96,405.45 L269.60,405.40 L271.27,405.36 L272.97,405.33 L274.68,405.31 L276.35,405.31 L277.97,405.34 L279.50,405.40 L280.96,405.49 L282.36,405.61 L283.71,405.76 L284.99,405.92 L286.19,406.10 L287.30,406.30 L288.33,406.50 L289.29,406.72 L290.17,406.95 L290.96,407.20 L291.64,407.49 L292.20,407.80 L292.63,408.16 L292.94,408.56 L293.14,408.99 L293.26,409.44 L293.31,409.88 L293.30,410.30 L293.21,410.72 L293.03,411.14 L292.77,411.56 L292.47,411.97 L292.17,412.35 L291.90,412.70 L291.69,412.96 L291.54,413.12 L291.38,413.26 L291.16,413.44 L290.82,413.73 L290.30,414.20 L289.61,414.87 L288.80,415.69 L287.86,416.62 L286.81,417.62 L285.66,418.63 L284.40,419.60 L282.99,420.58 L281.43,421.60 L279.75,422.64 L278.02,423.66 L276.28,424.63 L274.60,425.50 L272.95,426.27 L271.30,426.96 L269.65,427.59 L268.00,428.20 L266.35,428.79 L264.70,429.40 L263.04,430.04 L261.36,430.68 L259.68,431.32 L258.02,431.93 L256.42,432.50 L254.90,433.00 L253.46,433.44 L252.09,433.84 L250.76,434.19 L249.48,434.50 L248.23,434.77 L247.00,435.00 L245.81,435.20 L244.67,435.36 L243.56,435.48 L242.46,435.56 L241.34,435.60 L240.20,435.60 L238.98,435.56 L237.70,435.49 L236.40,435.38 L235.15,435.22 L234.00,434.99 L233.00,434.70 L232.15,434.38 L231.41,434.05 L230.76,433.66 L230.21,433.16 L229.76,432.49 Z" fill="none" stroke="#404040" stroke-width="0.55"/>
<ellipse cx="226.0" cy="435.6" rx="5.5" ry="14.5" transform="rotate(-10 226 435.6)" fill="none" stroke="#404040" stroke-width="0.55"/>
<ellipse cx="213.8" cy="447.4" rx="3.7" ry="5.3" fill="#d3421b" stroke="#7a2a10" stroke-width="0.5"/>
<line x1="74.50" y1="549.50" x2="325.50" y2="549.50" stroke="#000" stroke-width="0.7" stroke-opacity="0.055"/>
<line x1="74.50" y1="525.50" x2="325.50" y2="525.50" stroke="#000" stroke-width="0.7" stroke-opacity="0.055"/>
<line x1="74.50" y1="501.50" x2="325.50" y2="501.50" stroke="#000" stroke-width="0.7" stroke-opacity="0.055"/>
<line x1="74.50" y1="477.50" x2="325.50" y2="477.50" stroke="#000" stroke-width="0.7" stroke-opacity="0.055"/>
<line x1="74.50" y1="453.50" x2="325.50" y2="453.50" stroke="#000" stroke-width="0.7" stroke-opacity="0.055"/>
<line x1="74.50" y1="429.50" x2="325.50" y2="429.50" stroke="#000" stroke-width="0.7" stroke-opacity="0.055"/>
<line x1="74.50" y1="405.50" x2="325.50" y2="405.50" stroke="#000" stroke-width="0.7" stroke-opacity="0.055"/>
<line x1="142.50" y1="393.50" x2="142.50" y2="573.50" stroke="#000" stroke-width="0.7" stroke-opacity="0.055"/>
<line x1="210.50" y1="393.50" x2="210.50" y2="573.50" stroke="#000" stroke-width="0.7" stroke-opacity="0.055"/>
<line x1="277.50" y1="393.50" x2="277.50" y2="573.50" stroke="#000" stroke-width="0.7" stroke-opacity="0.055"/>
<line x1="224.10" y1="405.20" x2="236.60" y2="416.50" stroke="#333" stroke-width="0.7" />
<line x1="210.30" y1="414.30" x2="224.10" y2="425.50" stroke="#333" stroke-width="0.7" />
<line x1="181.70" y1="431.90" x2="197.80" y2="446.60" stroke="#333" stroke-width="0.7" />
<line x1="217.40" y1="447.60" x2="244.00" y2="461.00" stroke="#e0442a" stroke-width="0.8" />
<line x1="279.10" y1="449.50" x2="284.20" y2="456.00" stroke="#333" stroke-width="0.7" />
<line x1="233.20" y1="486.10" x2="244.20" y2="493.40" stroke="#333" stroke-width="0.7" />
<line x1="220.00" y1="555.10" x2="227.70" y2="559.30" stroke="#333" stroke-width="0.7" />
<line x1="104.40" y1="506.80" x2="117.40" y2="506.40" stroke="#333" stroke-width="0.8" />
<text x="196.20" y="403.10" font-size="7.0" fill="#222" text-anchor="start" textLength="30.8" lengthAdjust="spacingAndGlyphs" stroke="#222" stroke-width="0.15">Ceramics</text>
<text x="169.20" y="414.30" font-size="7.0" fill="#222" text-anchor="start" textLength="38.9" lengthAdjust="spacingAndGlyphs" stroke="#222" stroke-width="0.15">Composites</text>
<text x="151.80" y="428.80" font-size="7.0" fill="#222" text-anchor="start" textLength="23.4" lengthAdjust="spacingAndGlyphs" stroke="#222" stroke-width="0.15">Natural</text>
<text x="148.10" y="434.70" font-size="7.0" fill="#222" text-anchor="start" textLength="30" lengthAdjust="spacingAndGlyphs" stroke="#222" stroke-width="0.15">materials</text>
<text x="280.30" y="464.20" font-size="7.0" fill="#222" text-anchor="start" textLength="21.5" lengthAdjust="spacingAndGlyphs" stroke="#222" stroke-width="0.15">Metals</text>
<text x="245.70" y="496.70" font-size="7.0" fill="#222" text-anchor="start" textLength="30.2" lengthAdjust="spacingAndGlyphs" stroke="#222" stroke-width="0.15">Polymers</text>
<text x="229.10" y="564.00" font-size="7.0" fill="#222" text-anchor="start" textLength="36.9" lengthAdjust="spacingAndGlyphs" stroke="#222" stroke-width="0.15">Elastomers</text>
<text x="78.90" y="509.00" font-size="7.6" fill="#222" text-anchor="start" textLength="22.4" lengthAdjust="spacingAndGlyphs" stroke="#222" stroke-width="0.15">Foams</text>
<text x="244.90" y="465.00" font-size="8.2" fill="#e8282b" text-anchor="start" textLength="18.1" lengthAdjust="spacingAndGlyphs" >LCNF</text>
<text x="244.90" y="475.50" font-size="8.2" fill="#e8282b" text-anchor="start" textLength="34.2" lengthAdjust="spacingAndGlyphs" >substrate</text>
<text x="265.00" y="571.40" font-size="3.2" fill="#666" text-anchor="start" textLength="59" lengthAdjust="spacingAndGlyphs" >CES EduPack 2019 (Granta Design Ltd.)</text>
<text x="70.4" y="407.70" font-size="7.2" fill="#1a1a1a" text-anchor="end">10<tspan dy="-3.3" font-size="5.8">3</tspan></text>
<text x="70.4" y="431.70" font-size="7.2" fill="#1a1a1a" text-anchor="end">10<tspan dy="-3.3" font-size="5.8">2</tspan></text>
<text x="70.4" y="503.70" font-size="7.2" fill="#1a1a1a" text-anchor="end">10<tspan dy="-3.3" font-size="5.8">-1</tspan></text>
<text x="70.4" y="527.70" font-size="7.2" fill="#1a1a1a" text-anchor="end">10<tspan dy="-3.3" font-size="5.8">-2</tspan></text>
<text x="70.4" y="551.70" font-size="7.2" fill="#1a1a1a" text-anchor="end">10<tspan dy="-3.3" font-size="5.8">-3</tspan></text>
<text x="70.4" y="575.70" font-size="7.2" fill="#1a1a1a" text-anchor="end">10<tspan dy="-3.3" font-size="5.8">-4</tspan></text>
<text x="68.60" y="455.70" font-size="7.2" fill="#1a1a1a" text-anchor="end" >10</text>
<text x="68.60" y="479.70" font-size="7.2" fill="#1a1a1a" text-anchor="end" >1</text>
<text x="75.00" y="584.00" font-size="6.8" fill="#222" text-anchor="middle" >10</text>
<text x="142.40" y="584.00" font-size="6.8" fill="#222" text-anchor="middle" >100</text>
<text x="210.00" y="584.00" font-size="6.8" fill="#222" text-anchor="middle" >1000</text>
<text x="277.50" y="584.00" font-size="6.8" fill="#222" text-anchor="middle" >10,000</text>
<text x="162" y="593.9" font-size="9.2" fill="#222">Density, ρ  (kg/m<tspan dy="-3.5" font-size="6.5">3</tspan><tspan dy="3.5">)</tspan></text>
<text x="0.00" y="0.00" font-size="8.6" fill="#222" text-anchor="middle" textLength="99.6" lengthAdjust="spacingAndGlyphs" transform="translate(52.0,490.6) rotate(-90)">Young's modulus, E (GPa)</text>
<text x="24.50" y="381.80" font-size="14" fill="#111" text-anchor="start" textLength="19.4" lengthAdjust="spacingAndGlyphs" stroke="#111" stroke-width="0.25">(E)</text>
<path d="M637.5,390.5 L407.5,390.5 L407.5,575.5 L637.5,575.5" fill="none" stroke="#444" stroke-width="1"/>
<line x1="637.50" y1="390.50" x2="637.50" y2="575.50" stroke="#f03c3c" stroke-width="1" />
<line x1="430.50" y1="575.50" x2="430.50" y2="578.50" stroke="#444" stroke-width="0.8" />
<text x="430.83" y="589.00" font-size="8.2" fill="#222" text-anchor="middle" >100</text>
<line x1="460.50" y1="575.50" x2="460.50" y2="578.50" stroke="#444" stroke-width="0.8" />
<text x="460.26" y="589.00" font-size="8.2" fill="#222" text-anchor="middle" >200</text>
<line x1="489.50" y1="575.50" x2="489.50" y2="578.50" stroke="#444" stroke-width="0.8" />
<text x="489.69" y="589.00" font-size="8.2" fill="#222" text-anchor="middle" >300</text>
<line x1="519.50" y1="575.50" x2="519.50" y2="578.50" stroke="#444" stroke-width="0.8" />
<text x="519.12" y="589.00" font-size="8.2" fill="#222" text-anchor="middle" >400</text>
<line x1="548.50" y1="575.50" x2="548.50" y2="578.50" stroke="#444" stroke-width="0.8" />
<text x="548.55" y="589.00" font-size="8.2" fill="#222" text-anchor="middle" >500</text>
<line x1="577.50" y1="575.50" x2="577.50" y2="578.50" stroke="#444" stroke-width="0.8" />
<text x="577.98" y="589.00" font-size="8.2" fill="#222" text-anchor="middle" >600</text>
<line x1="607.50" y1="575.50" x2="607.50" y2="578.50" stroke="#444" stroke-width="0.8" />
<text x="607.41" y="589.00" font-size="8.2" fill="#222" text-anchor="middle" >700</text>
<line x1="636.50" y1="575.50" x2="636.50" y2="578.50" stroke="#444" stroke-width="0.8" />
<text x="636.84" y="589.00" font-size="8.2" fill="#222" text-anchor="middle" >800</text>
<line x1="416.50" y1="575.50" x2="416.50" y2="577.50" stroke="#444" stroke-width="0.7" />
<line x1="445.50" y1="575.50" x2="445.50" y2="577.50" stroke="#444" stroke-width="0.7" />
<line x1="474.50" y1="575.50" x2="474.50" y2="577.50" stroke="#444" stroke-width="0.7" />
<line x1="504.50" y1="575.50" x2="504.50" y2="577.50" stroke="#444" stroke-width="0.7" />
<line x1="533.50" y1="575.50" x2="533.50" y2="577.50" stroke="#444" stroke-width="0.7" />
<line x1="563.50" y1="575.50" x2="563.50" y2="577.50" stroke="#444" stroke-width="0.7" />
<line x1="592.50" y1="575.50" x2="592.50" y2="577.50" stroke="#444" stroke-width="0.7" />
<line x1="622.50" y1="575.50" x2="622.50" y2="577.50" stroke="#444" stroke-width="0.7" />
<line x1="404.50" y1="557.50" x2="407.50" y2="557.50" stroke="#444" stroke-width="0.8" />
<text x="401.90" y="560.00" font-size="8.2" fill="#222" text-anchor="end" >20</text>
<line x1="404.50" y1="520.50" x2="407.50" y2="520.50" stroke="#444" stroke-width="0.8" />
<text x="401.90" y="523.00" font-size="8.2" fill="#222" text-anchor="end" >40</text>
<line x1="404.50" y1="483.50" x2="407.50" y2="483.50" stroke="#444" stroke-width="0.8" />
<text x="401.90" y="486.00" font-size="8.2" fill="#222" text-anchor="end" >60</text>
<line x1="404.50" y1="446.50" x2="407.50" y2="446.50" stroke="#444" stroke-width="0.8" />
<text x="401.90" y="449.00" font-size="8.2" fill="#222" text-anchor="end" >80</text>
<line x1="404.50" y1="409.50" x2="407.50" y2="409.50" stroke="#444" stroke-width="0.8" />
<text x="401.90" y="412.00" font-size="8.2" fill="#222" text-anchor="end" >100</text>
<line x1="405.50" y1="538.50" x2="407.50" y2="538.50" stroke="#444" stroke-width="0.7" />
<line x1="405.50" y1="501.50" x2="407.50" y2="501.50" stroke="#444" stroke-width="0.7" />
<line x1="405.50" y1="464.50" x2="407.50" y2="464.50" stroke="#444" stroke-width="0.7" />
<line x1="405.50" y1="427.50" x2="407.50" y2="427.50" stroke="#444" stroke-width="0.7" />
<line x1="405.50" y1="390.50" x2="407.50" y2="390.50" stroke="#444" stroke-width="0.7" />
<line x1="408.00" y1="410.50" x2="465.00" y2="410.50" stroke="#cbe9d5" stroke-width="1.0" />
<line x1="428.00" y1="414.50" x2="484.00" y2="414.50" stroke="#c3e5cf" stroke-width="1.0" />
<line x1="460.50" y1="418.50" x2="498.50" y2="418.50" stroke="#c3e5cf" stroke-width="1.0" />
<path d="M407.80,409.40 L409.49,409.52 L411.72,409.68 L414.38,409.86 L417.34,410.07 L420.49,410.29 L423.73,410.53 L426.94,410.77 L430.00,411.00 L433.09,411.24 L436.38,411.50 L439.79,411.78 L443.20,412.06 L446.53,412.33 L449.67,412.61 L452.53,412.86 L455.00,413.10 L457.05,413.31 L458.74,413.51 L460.15,413.69 L461.38,413.87 L462.50,414.04 L463.59,414.22 L464.73,414.40 L466.00,414.60 L467.39,414.81 L468.82,415.01 L470.25,415.22 L471.68,415.43 L473.08,415.65 L474.43,415.89 L475.71,416.13 L476.90,416.40 L478.00,416.68 L479.03,416.99 L480.00,417.30 L480.91,417.63 L481.78,417.97 L482.61,418.31 L483.42,418.66 L484.20,419.00 L484.95,419.34 L485.65,419.67 L486.30,420.00 L486.93,420.34 L487.54,420.69 L488.13,421.06 L488.71,421.46 L489.30,421.90 L489.89,422.37 L490.47,422.86 L491.04,423.38 L491.59,423.92 L492.14,424.48 L492.67,425.07 L493.19,425.67 L493.70,426.30 L494.19,426.95 L494.67,427.63 L495.13,428.34 L495.59,429.06 L496.03,429.80 L496.46,430.56 L496.88,431.33 L497.30,432.10 L497.71,432.88 L498.12,433.68 L498.51,434.49 L498.90,435.31 L499.27,436.14 L499.63,436.98 L499.98,437.84 L500.30,438.70 L500.60,439.54 L500.87,440.34 L501.11,441.14 L501.35,441.95 L501.58,442.81 L501.81,443.76 L502.05,444.81 L502.30,446.00 L502.57,447.32 L502.84,448.73 L503.12,450.24 L503.41,451.83 L503.69,453.51 L503.97,455.26 L504.24,457.10 L504.50,459.00 L504.76,461.04 L505.01,463.27 L505.26,465.60 L505.51,468.00 L505.74,470.40 L505.97,472.73 L506.19,474.96 L506.40,477.00 L506.59,478.85 L506.78,480.57 L506.95,482.18 L507.12,483.72 L507.28,485.23 L507.42,486.76 L507.57,488.34 L507.70,490.00 L507.82,491.74 L507.92,493.51 L508.01,495.31 L508.09,497.12 L508.18,498.96 L508.27,500.80 L508.37,502.65 L508.50,504.50 L508.65,506.41 L508.81,508.40 L508.98,510.44 L509.16,512.47 L509.35,514.44 L509.54,516.30 L509.72,518.00 L509.90,519.50 L510.07,520.77 L510.24,521.86 L510.40,522.81 L510.57,523.64 L510.74,524.39 L510.91,525.09 L511.10,525.78 L511.30,526.50 L511.51,527.22 L511.72,527.90 L511.94,528.55 L512.16,529.17 L512.40,529.75 L512.65,530.30 L512.92,530.82 L513.20,531.30 L513.49,531.74 L513.79,532.12 L514.10,532.47 L514.42,532.79 L514.76,533.09 L515.14,533.38 L515.55,533.68 L516.00,534.00 L516.44,534.30 L516.84,534.55 L517.24,534.79 L517.69,535.03 L518.22,535.31 L518.89,535.64 L519.74,536.07 L520.80,536.60 L522.15,537.29 L523.79,538.12 L525.62,539.05 L527.57,540.03 L529.57,541.02 L531.52,541.98 L533.36,542.85 L535.00,543.60 L536.30,544.19 L537.27,544.67 L538.08,545.06 L538.87,545.42 L539.81,545.78 L541.04,546.19 L542.72,546.68 L545.00,547.30 L547.96,548.08 L551.49,548.98 L555.45,549.97 L559.72,551.01 L564.16,552.05 L568.64,553.06 L573.03,553.99 L577.20,554.80 L581.25,555.51 L585.33,556.16 L589.43,556.75 L593.52,557.30 L597.57,557.80 L601.57,558.27 L605.49,558.70 L609.30,559.10 L613.18,559.47 L617.22,559.79 L621.30,560.07 L625.26,560.32 L628.97,560.53 L632.29,560.71 L635.08,560.87 L637.20,561.00" stroke="#333" stroke-width="0.85" fill="none" />
<path d="M407.80,408.60 L413.99,408.65 L422.96,408.73 L432.40,408.81 L440.00,408.90 L444.97,409.00 L448.60,409.10 L451.68,409.20 L455.00,409.30 L458.85,409.34 L462.78,409.34 L466.47,409.40 L469.60,409.60 L471.94,410.01 L473.71,410.56 L475.25,411.15 L476.90,411.70 L478.81,412.15 L480.78,412.57 L482.64,413.00 L484.20,413.50 L485.36,414.05 L486.23,414.64 L486.98,415.31 L487.80,416.10 L488.74,417.04 L489.69,418.09 L490.63,419.23 L491.50,420.40 L492.30,421.60 L493.04,422.85 L493.74,424.15 L494.40,425.50 L495.02,426.90 L495.59,428.36 L496.12,429.86 L496.60,431.40 L497.02,432.83 L497.38,434.19 L497.72,435.81 L498.10,438.00 L498.54,440.98 L499.01,444.54 L499.47,448.33 L499.90,452.00 L500.28,455.50 L500.64,459.00 L500.97,462.50 L501.30,466.00 L501.62,469.43 L501.92,472.81 L502.21,476.29 L502.50,480.00 L502.78,483.90 L503.04,487.94 L503.31,492.26 L503.60,497.00 L503.94,502.42 L504.30,508.38 L504.66,514.40 L505.00,520.00 L505.29,525.69 L505.56,531.51 L505.82,536.30 L506.10,538.90 L506.39,538.59 L506.69,536.13 L507.00,532.58 L507.30,529.00 L507.60,525.43 L507.91,521.38 L508.21,517.14 L508.50,513.00 L508.77,509.10 L509.03,505.27 L509.30,501.30 L509.60,497.00 L509.96,492.26 L510.36,487.21 L510.75,481.97 L511.10,476.70 L511.39,471.22 L511.65,465.52 L511.88,459.99 L512.10,455.00 L512.28,450.80 L512.44,447.14 L512.60,443.66 L512.80,440.00 L513.06,435.84 L513.35,431.44 L513.67,427.32 L514.00,424.00 L514.34,421.72 L514.69,420.16 L515.08,419.03 L515.50,418.00 L515.91,417.09 L516.32,416.43 L516.85,415.90 L517.60,415.40 L518.38,414.95 L519.20,414.59 L520.50,414.23 L522.70,413.80 L526.10,413.22 L530.42,412.56 L535.20,411.91 L540.00,411.40 L544.58,411.07 L549.21,410.86 L554.23,410.69 L560.00,410.50 L566.42,410.28 L573.38,410.06 L581.14,409.83 L590.00,409.60 L601.45,409.33 L614.88,409.04 L627.36,408.78 L636.00,408.60" stroke="#f04848" stroke-width="1.0" fill="none" stroke-dasharray="3,1.2,0.8,1.2"/>
<line x1="506.50" y1="539.00" x2="506.50" y2="556.00" stroke="#f7a0a0" stroke-width="0.8" />
<line x1="452.50" y1="416.50" x2="452.50" y2="425.00" stroke="#4848b0" stroke-width="0.8" />
<path d="M451.0,417.6 L452.0,414.3 L453.0,417.6 Z" fill="#4848b0"/>
<line x1="465.50" y1="421.00" x2="465.50" y2="440.30" stroke="#b0b0e4" stroke-width="0.8" />
<path d="M464.0,422.2 L465.0,418.9 L466.0,422.2 Z" fill="#b0b0e4"/>
<text x="409.60" y="433.10" font-size="8.4" fill="#222" text-anchor="start" textLength="50.8" lengthAdjust="spacingAndGlyphs" >2 % at 205 °C</text>
<text x="418.30" y="448.80" font-size="8.4" fill="#222" text-anchor="start" textLength="50.8" lengthAdjust="spacingAndGlyphs" >5 % at 285 °C</text>
<text x="484.00" y="561.40" font-size="8.4" fill="#222" text-anchor="start" textLength="48.2" lengthAdjust="spacingAndGlyphs" >Peak: 358 °C</text>
<text x="573.50" y="571.40" font-size="8.4" fill="#222" text-anchor="start" textLength="48" lengthAdjust="spacingAndGlyphs" >Ash: 18.02 %</text>
<line x1="621.10" y1="567.90" x2="636.10" y2="561.00" stroke="#f07070" stroke-width="0.7" />
<line x1="553.20" y1="421.50" x2="571.60" y2="421.50" stroke="#333" stroke-width="1.0" />
<text x="573.60" y="424.40" font-size="8.4" fill="#222" text-anchor="start" textLength="54.8" lengthAdjust="spacingAndGlyphs" >LCNF substrate</text>
<line x1="553.20" y1="431.50" x2="571.60" y2="431.50" stroke="#f04848" stroke-width="1.0" stroke-dasharray="3,1.2,0.8,1.2"/>
<text x="573.60" y="434.00" font-size="8.4" fill="#222" text-anchor="start" textLength="61.3" lengthAdjust="spacingAndGlyphs" >Derivative wt. (%)</text>
<text x="350.90" y="381.80" font-size="14" fill="#111" text-anchor="start" textLength="18.4" lengthAdjust="spacingAndGlyphs" stroke="#111" stroke-width="0.25">(F)</text>
<text x="0.00" y="0.00" font-size="12.6" fill="#1a1a1a" text-anchor="middle" textLength="63" lengthAdjust="spacingAndGlyphs" transform="translate(386.1,483.5) rotate(-90)">Weight [%]</text>
<text x="522.40" y="608.00" font-size="13.2" fill="#1a1a1a" text-anchor="middle" textLength="100.3" lengthAdjust="spacingAndGlyphs" >Temperature [°C]</text>
<text x="0.00" y="0.00" font-size="13.0" fill="#ee3030" text-anchor="middle" textLength="107.5" lengthAdjust="spacingAndGlyphs" transform="translate(655.4,481.6) rotate(-90)">Derivative [wt. (%)]</text>
</svg></body></html>
